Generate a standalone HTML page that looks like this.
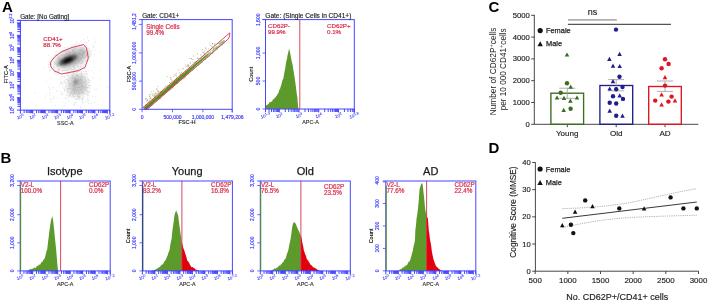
<!DOCTYPE html>
<html><head><meta charset="utf-8"><style>
html,body{margin:0;padding:0;background:#fff;}
svg{display:block;will-change:transform;}
text{font-family:"Liberation Sans",sans-serif;}
</style></head><body>
<svg xmlns="http://www.w3.org/2000/svg" width="708" height="301" viewBox="0 0 708 301">
<defs><filter id="b1" x="-50%" y="-50%" width="200%" height="200%"><feGaussianBlur stdDeviation="1.2"/></filter><filter id="b2" x="-50%" y="-50%" width="200%" height="200%"><feGaussianBlur stdDeviation="2.5"/></filter></defs>
<rect width="708" height="301" fill="#fff"/>
<text x="2" y="11.8" font-size="15" fill="#000" text-anchor="start" font-weight="bold" >A</text>
<text x="0.6" y="163.3" font-size="15" fill="#000" text-anchor="start" font-weight="bold" >B</text>
<text x="488.4" y="12.1" font-size="15" fill="#000" text-anchor="start" font-weight="bold" >C</text>
<text x="488.4" y="153" font-size="15" fill="#000" text-anchor="start" font-weight="bold" >D</text>
<ellipse cx="71.5" cy="58" rx="17.5" ry="8.6" transform="rotate(-22 71.5 58)" fill="#8f8f8f" opacity="0.55" filter="url(#b2)"/>
<ellipse cx="77.5" cy="85" rx="9.5" ry="11" fill="#b0b0b0" opacity="0.6" filter="url(#b2)"/>
<ellipse cx="75.6" cy="82.6" rx="1.6" ry="1.9" fill="#777" opacity="0.6" filter="url(#b1)"/>
<path d="M69.6 61.9h.9v.9h-.9zM68.2 58.0h.9v.9h-.9zM61.6 61.5h.9v.9h-.9zM82.5 55.7h.9v.9h-.9zM81.5 55.2h.9v.9h-.9zM75.2 57.7h.9v.9h-.9zM56.8 69.5h.9v.9h-.9zM76.9 58.6h.9v.9h-.9zM51.2 57.8h.9v.9h-.9zM61.5 60.2h.9v.9h-.9zM73.8 57.0h.9v.9h-.9zM74.7 53.3h.9v.9h-.9zM74.8 59.0h.9v.9h-.9zM68.2 69.2h.9v.9h-.9zM78.8 61.6h.9v.9h-.9zM63.5 57.8h.9v.9h-.9zM67.5 59.5h.9v.9h-.9zM77.6 56.9h.9v.9h-.9zM64.8 56.0h.9v.9h-.9zM68.5 66.3h.9v.9h-.9zM63.7 63.1h.9v.9h-.9zM72.1 49.9h.9v.9h-.9zM74.1 64.3h.9v.9h-.9zM51.0 65.6h.9v.9h-.9zM68.3 55.2h.9v.9h-.9zM75.6 56.1h.9v.9h-.9zM58.6 68.5h.9v.9h-.9zM79.3 60.0h.9v.9h-.9zM85.6 54.0h.9v.9h-.9zM69.5 52.1h.9v.9h-.9zM75.7 53.1h.9v.9h-.9zM64.1 54.7h.9v.9h-.9zM60.6 60.2h.9v.9h-.9zM79.2 43.7h.9v.9h-.9zM57.5 65.8h.9v.9h-.9zM86.0 55.0h.9v.9h-.9zM47.7 55.1h.9v.9h-.9zM72.9 53.6h.9v.9h-.9zM62.2 67.7h.9v.9h-.9zM81.9 54.5h.9v.9h-.9zM74.2 59.4h.9v.9h-.9zM87.5 54.5h.9v.9h-.9zM77.1 58.8h.9v.9h-.9zM58.6 71.1h.9v.9h-.9zM81.2 56.8h.9v.9h-.9zM50.8 64.0h.9v.9h-.9zM75.4 46.6h.9v.9h-.9zM71.3 63.9h.9v.9h-.9zM61.7 71.5h.9v.9h-.9zM76.0 55.5h.9v.9h-.9zM75.4 60.1h.9v.9h-.9zM74.5 63.2h.9v.9h-.9zM63.8 59.4h.9v.9h-.9zM81.0 54.2h.9v.9h-.9zM64.5 66.6h.9v.9h-.9zM84.2 50.2h.9v.9h-.9zM57.5 63.8h.9v.9h-.9zM69.0 57.8h.9v.9h-.9zM82.4 47.8h.9v.9h-.9zM80.5 47.3h.9v.9h-.9zM64.7 64.7h.9v.9h-.9zM83.6 57.6h.9v.9h-.9zM74.6 57.7h.9v.9h-.9zM73.6 60.5h.9v.9h-.9zM69.9 60.5h.9v.9h-.9zM76.5 56.1h.9v.9h-.9zM79.5 57.8h.9v.9h-.9zM90.9 51.4h.9v.9h-.9zM66.1 58.6h.9v.9h-.9zM72.8 62.8h.9v.9h-.9zM68.6 61.7h.9v.9h-.9zM83.4 38.9h.9v.9h-.9zM60.7 64.4h.9v.9h-.9zM75.3 57.9h.9v.9h-.9zM68.2 63.3h.9v.9h-.9zM72.6 54.9h.9v.9h-.9zM95.0 49.7h.9v.9h-.9zM65.5 60.4h.9v.9h-.9zM68.7 59.2h.9v.9h-.9zM43.8 67.9h.9v.9h-.9zM78.3 48.9h.9v.9h-.9zM72.3 63.1h.9v.9h-.9zM82.2 61.7h.9v.9h-.9zM54.0 64.2h.9v.9h-.9zM69.0 62.8h.9v.9h-.9zM76.0 41.6h.9v.9h-.9zM78.5 47.2h.9v.9h-.9zM74.5 48.8h.9v.9h-.9zM75.1 63.2h.9v.9h-.9zM70.0 60.0h.9v.9h-.9zM78.9 55.7h.9v.9h-.9zM73.3 65.9h.9v.9h-.9zM80.5 52.7h.9v.9h-.9zM95.0 41.5h.9v.9h-.9zM79.2 53.4h.9v.9h-.9zM73.7 61.2h.9v.9h-.9zM74.4 60.5h.9v.9h-.9zM53.3 58.1h.9v.9h-.9zM74.9 51.5h.9v.9h-.9zM58.2 56.2h.9v.9h-.9zM84.7 56.5h.9v.9h-.9zM83.2 47.9h.9v.9h-.9zM68.7 53.3h.9v.9h-.9zM81.6 62.5h.9v.9h-.9zM65.6 69.4h.9v.9h-.9zM80.1 53.5h.9v.9h-.9zM54.9 73.3h.9v.9h-.9zM68.9 56.2h.9v.9h-.9zM75.7 58.7h.9v.9h-.9zM83.3 47.4h.9v.9h-.9zM84.9 60.4h.9v.9h-.9zM84.6 51.5h.9v.9h-.9zM65.9 66.3h.9v.9h-.9zM72.4 58.6h.9v.9h-.9zM84.1 51.2h.9v.9h-.9zM48.2 66.5h.9v.9h-.9zM54.9 70.2h.9v.9h-.9zM72.8 54.4h.9v.9h-.9zM72.6 62.3h.9v.9h-.9zM74.5 64.2h.9v.9h-.9zM72.5 63.5h.9v.9h-.9zM88.6 59.5h.9v.9h-.9zM66.3 65.4h.9v.9h-.9zM50.8 61.6h.9v.9h-.9zM54.3 71.8h.9v.9h-.9zM59.2 63.7h.9v.9h-.9zM69.1 59.2h.9v.9h-.9zM65.8 62.1h.9v.9h-.9zM88.3 51.1h.9v.9h-.9zM78.1 60.8h.9v.9h-.9zM66.5 53.6h.9v.9h-.9zM67.9 65.8h.9v.9h-.9zM54.0 62.8h.9v.9h-.9zM82.3 57.8h.9v.9h-.9zM72.7 62.1h.9v.9h-.9zM70.2 52.4h.9v.9h-.9zM54.7 62.3h.9v.9h-.9zM78.7 52.0h.9v.9h-.9zM60.8 58.8h.9v.9h-.9zM56.1 64.5h.9v.9h-.9zM60.4 65.2h.9v.9h-.9zM49.0 70.1h.9v.9h-.9zM60.9 52.4h.9v.9h-.9zM77.4 54.1h.9v.9h-.9zM47.8 64.0h.9v.9h-.9zM72.9 55.2h.9v.9h-.9zM80.0 58.6h.9v.9h-.9zM78.1 57.1h.9v.9h-.9zM85.1 55.8h.9v.9h-.9zM71.1 47.1h.9v.9h-.9zM82.3 60.7h.9v.9h-.9zM67.2 57.6h.9v.9h-.9zM86.0 42.2h.9v.9h-.9zM80.4 67.6h.9v.9h-.9zM63.5 65.6h.9v.9h-.9zM88.9 49.9h.9v.9h-.9zM78.2 60.2h.9v.9h-.9zM62.1 62.0h.9v.9h-.9zM75.5 61.0h.9v.9h-.9zM70.3 57.8h.9v.9h-.9zM60.5 61.2h.9v.9h-.9zM79.8 55.2h.9v.9h-.9zM61.1 58.3h.9v.9h-.9zM98.9 52.3h.9v.9h-.9zM71.8 43.9h.9v.9h-.9zM77.9 58.0h.9v.9h-.9zM88.0 53.3h.9v.9h-.9zM71.4 61.2h.9v.9h-.9zM54.5 71.5h.9v.9h-.9zM72.7 53.9h.9v.9h-.9zM87.4 61.1h.9v.9h-.9zM56.2 61.4h.9v.9h-.9zM74.2 58.1h.9v.9h-.9zM65.2 55.8h.9v.9h-.9zM93.4 54.2h.9v.9h-.9zM56.8 57.5h.9v.9h-.9zM89.3 55.7h.9v.9h-.9zM90.1 54.4h.9v.9h-.9zM63.2 63.4h.9v.9h-.9zM48.8 64.3h.9v.9h-.9zM71.5 61.1h.9v.9h-.9zM63.8 61.0h.9v.9h-.9zM76.2 58.3h.9v.9h-.9zM77.5 56.7h.9v.9h-.9zM69.5 63.5h.9v.9h-.9zM69.8 54.5h.9v.9h-.9zM65.0 61.2h.9v.9h-.9zM70.3 59.7h.9v.9h-.9zM71.4 59.3h.9v.9h-.9zM67.2 53.3h.9v.9h-.9zM77.2 61.5h.9v.9h-.9zM74.8 55.8h.9v.9h-.9zM73.3 52.2h.9v.9h-.9zM52.9 66.9h.9v.9h-.9zM63.6 65.9h.9v.9h-.9zM55.3 51.1h.9v.9h-.9zM64.2 70.1h.9v.9h-.9zM64.6 53.9h.9v.9h-.9zM64.7 64.1h.9v.9h-.9zM76.1 57.2h.9v.9h-.9zM86.7 55.4h.9v.9h-.9zM72.0 61.3h.9v.9h-.9zM88.8 55.9h.9v.9h-.9zM78.6 49.2h.9v.9h-.9zM71.1 62.5h.9v.9h-.9zM70.3 64.6h.9v.9h-.9zM78.6 60.1h.9v.9h-.9zM74.1 71.0h.9v.9h-.9zM82.5 52.2h.9v.9h-.9zM77.1 70.0h.9v.9h-.9zM69.5 64.0h.9v.9h-.9zM80.4 54.3h.9v.9h-.9zM60.2 64.3h.9v.9h-.9zM76.7 62.1h.9v.9h-.9zM78.6 55.3h.9v.9h-.9zM80.3 57.3h.9v.9h-.9zM73.1 57.9h.9v.9h-.9zM70.1 62.7h.9v.9h-.9zM59.6 60.1h.9v.9h-.9zM68.1 51.8h.9v.9h-.9zM62.7 51.2h.9v.9h-.9zM65.6 64.0h.9v.9h-.9zM76.3 55.8h.9v.9h-.9zM65.9 53.0h.9v.9h-.9zM89.6 53.1h.9v.9h-.9zM79.7 49.8h.9v.9h-.9zM65.5 51.0h.9v.9h-.9zM80.4 59.4h.9v.9h-.9zM52.7 66.4h.9v.9h-.9zM73.5 47.8h.9v.9h-.9zM51.3 61.4h.9v.9h-.9zM62.1 54.8h.9v.9h-.9zM71.8 59.5h.9v.9h-.9zM78.5 59.0h.9v.9h-.9zM87.8 57.4h.9v.9h-.9zM57.4 61.8h.9v.9h-.9zM58.6 58.1h.9v.9h-.9zM70.2 58.9h.9v.9h-.9zM72.5 49.2h.9v.9h-.9zM59.1 63.7h.9v.9h-.9zM68.5 57.9h.9v.9h-.9zM68.8 55.3h.9v.9h-.9zM78.4 57.1h.9v.9h-.9zM68.8 55.8h.9v.9h-.9zM63.8 46.8h.9v.9h-.9zM61.7 62.9h.9v.9h-.9zM57.0 65.8h.9v.9h-.9zM69.6 51.6h.9v.9h-.9zM68.0 58.1h.9v.9h-.9zM76.7 59.3h.9v.9h-.9zM68.9 54.8h.9v.9h-.9zM69.5 58.8h.9v.9h-.9zM78.6 56.7h.9v.9h-.9zM61.3 55.4h.9v.9h-.9zM65.9 56.7h.9v.9h-.9zM60.1 62.7h.9v.9h-.9zM66.5 61.1h.9v.9h-.9zM75.2 54.4h.9v.9h-.9zM92.6 47.1h.9v.9h-.9zM81.8 54.4h.9v.9h-.9zM76.9 42.9h.9v.9h-.9zM64.3 62.8h.9v.9h-.9zM81.5 66.6h.9v.9h-.9zM76.7 63.0h.9v.9h-.9zM80.3 59.6h.9v.9h-.9zM75.6 55.6h.9v.9h-.9zM73.7 51.4h.9v.9h-.9zM80.3 48.8h.9v.9h-.9zM77.7 67.1h.9v.9h-.9zM68.9 59.5h.9v.9h-.9zM82.2 53.7h.9v.9h-.9zM63.8 63.1h.9v.9h-.9zM78.0 59.3h.9v.9h-.9zM67.2 69.8h.9v.9h-.9zM87.0 51.5h.9v.9h-.9zM72.7 55.4h.9v.9h-.9zM83.1 49.2h.9v.9h-.9zM76.5 53.4h.9v.9h-.9zM65.8 64.7h.9v.9h-.9zM83.8 52.8h.9v.9h-.9zM66.2 65.1h.9v.9h-.9zM71.2 60.1h.9v.9h-.9zM87.9 57.2h.9v.9h-.9zM70.7 71.2h.9v.9h-.9zM72.6 62.1h.9v.9h-.9zM64.7 61.1h.9v.9h-.9zM57.8 74.1h.9v.9h-.9zM81.6 47.1h.9v.9h-.9zM53.3 57.5h.9v.9h-.9zM81.3 51.4h.9v.9h-.9zM69.8 57.3h.9v.9h-.9zM67.6 54.0h.9v.9h-.9zM68.3 51.8h.9v.9h-.9zM70.9 60.2h.9v.9h-.9zM75.0 55.4h.9v.9h-.9zM62.7 63.1h.9v.9h-.9zM69.5 67.7h.9v.9h-.9zM78.1 54.7h.9v.9h-.9zM65.1 57.3h.9v.9h-.9zM61.3 60.9h.9v.9h-.9zM74.9 59.6h.9v.9h-.9zM80.7 65.7h.9v.9h-.9zM64.3 61.6h.9v.9h-.9zM94.0 38.0h.9v.9h-.9zM66.3 61.5h.9v.9h-.9zM73.3 59.7h.9v.9h-.9zM69.5 61.2h.9v.9h-.9zM73.1 61.8h.9v.9h-.9zM51.0 62.5h.9v.9h-.9zM68.9 53.8h.9v.9h-.9zM62.3 65.8h.9v.9h-.9zM66.1 64.2h.9v.9h-.9zM78.8 56.7h.9v.9h-.9zM75.7 55.9h.9v.9h-.9zM57.4 64.4h.9v.9h-.9zM74.3 54.1h.9v.9h-.9zM71.6 62.3h.9v.9h-.9zM63.9 65.2h.9v.9h-.9zM87.7 48.0h.9v.9h-.9zM72.1 57.2h.9v.9h-.9zM86.4 53.4h.9v.9h-.9zM78.2 51.5h.9v.9h-.9zM70.8 58.5h.9v.9h-.9zM56.9 72.7h.9v.9h-.9zM76.1 46.7h.9v.9h-.9zM77.9 54.7h.9v.9h-.9zM76.0 58.3h.9v.9h-.9zM56.2 63.9h.9v.9h-.9zM84.1 49.5h.9v.9h-.9zM58.4 56.7h.9v.9h-.9zM60.0 65.2h.9v.9h-.9zM88.1 53.2h.9v.9h-.9zM77.9 67.7h.9v.9h-.9zM64.6 57.6h.9v.9h-.9zM77.2 58.7h.9v.9h-.9zM58.9 57.5h.9v.9h-.9zM74.3 58.4h.9v.9h-.9zM58.1 63.2h.9v.9h-.9zM66.7 62.9h.9v.9h-.9zM69.7 58.6h.9v.9h-.9zM69.8 64.8h.9v.9h-.9zM83.6 50.9h.9v.9h-.9zM77.6 51.4h.9v.9h-.9zM73.2 61.6h.9v.9h-.9zM84.7 50.3h.9v.9h-.9zM70.7 59.7h.9v.9h-.9zM56.7 65.0h.9v.9h-.9zM65.3 63.1h.9v.9h-.9zM56.1 54.3h.9v.9h-.9zM71.9 59.5h.9v.9h-.9zM67.5 64.9h.9v.9h-.9zM67.1 56.9h.9v.9h-.9zM72.4 49.3h.9v.9h-.9zM64.5 61.3h.9v.9h-.9zM78.8 54.1h.9v.9h-.9zM72.6 54.2h.9v.9h-.9zM77.3 64.8h.9v.9h-.9zM69.2 72.2h.9v.9h-.9zM64.9 61.3h.9v.9h-.9zM74.7 62.4h.9v.9h-.9zM54.9 54.2h.9v.9h-.9zM78.4 59.5h.9v.9h-.9zM82.3 67.9h.9v.9h-.9zM73.5 58.8h.9v.9h-.9zM80.7 56.2h.9v.9h-.9zM84.4 45.7h.9v.9h-.9zM60.4 44.4h.9v.9h-.9zM78.0 53.3h.9v.9h-.9zM84.2 64.4h.9v.9h-.9zM70.4 57.4h.9v.9h-.9zM64.5 56.8h.9v.9h-.9zM66.3 64.1h.9v.9h-.9zM71.5 58.6h.9v.9h-.9zM71.2 63.4h.9v.9h-.9zM75.4 55.7h.9v.9h-.9zM77.1 55.0h.9v.9h-.9zM62.9 70.1h.9v.9h-.9zM73.5 52.1h.9v.9h-.9zM82.0 55.5h.9v.9h-.9zM59.3 72.5h.9v.9h-.9zM76.0 61.1h.9v.9h-.9zM72.6 57.0h.9v.9h-.9zM58.1 69.5h.9v.9h-.9zM70.7 57.1h.9v.9h-.9zM74.5 57.4h.9v.9h-.9zM76.7 53.9h.9v.9h-.9zM66.3 48.9h.9v.9h-.9zM68.3 63.4h.9v.9h-.9zM83.1 51.1h.9v.9h-.9zM73.1 66.3h.9v.9h-.9zM69.4 63.2h.9v.9h-.9zM87.2 51.5h.9v.9h-.9zM81.3 50.0h.9v.9h-.9zM72.8 57.3h.9v.9h-.9zM74.4 63.2h.9v.9h-.9zM92.6 45.3h.9v.9h-.9zM66.5 63.2h.9v.9h-.9zM61.9 65.3h.9v.9h-.9zM75.9 54.8h.9v.9h-.9zM72.9 49.2h.9v.9h-.9zM75.1 48.2h.9v.9h-.9zM63.2 58.9h.9v.9h-.9zM68.9 64.1h.9v.9h-.9zM71.0 56.3h.9v.9h-.9zM79.4 63.4h.9v.9h-.9zM71.8 60.1h.9v.9h-.9zM83.4 54.4h.9v.9h-.9zM63.7 75.4h.9v.9h-.9zM88.1 40.0h.9v.9h-.9zM71.5 60.6h.9v.9h-.9zM81.6 57.4h.9v.9h-.9zM66.2 54.8h.9v.9h-.9zM74.1 62.8h.9v.9h-.9zM58.5 58.5h.9v.9h-.9zM66.8 49.8h.9v.9h-.9zM67.6 57.6h.9v.9h-.9zM73.9 53.4h.9v.9h-.9zM61.7 60.5h.9v.9h-.9zM69.2 55.7h.9v.9h-.9zM72.6 61.9h.9v.9h-.9zM85.8 61.2h.9v.9h-.9zM62.6 59.9h.9v.9h-.9zM51.0 77.8h.9v.9h-.9zM64.0 61.4h.9v.9h-.9zM73.2 50.1h.9v.9h-.9zM75.4 56.4h.9v.9h-.9zM54.1 67.6h.9v.9h-.9zM78.7 44.9h.9v.9h-.9zM79.2 56.0h.9v.9h-.9zM76.5 58.5h.9v.9h-.9zM83.1 51.9h.9v.9h-.9zM78.5 52.9h.9v.9h-.9zM76.3 51.7h.9v.9h-.9zM73.5 66.9h.9v.9h-.9zM75.0 55.9h.9v.9h-.9zM58.4 59.8h.9v.9h-.9zM74.8 62.0h.9v.9h-.9zM76.2 59.1h.9v.9h-.9zM73.3 64.9h.9v.9h-.9zM66.1 57.7h.9v.9h-.9zM79.6 55.0h.9v.9h-.9zM67.2 57.1h.9v.9h-.9zM69.8 62.4h.9v.9h-.9zM71.9 51.5h.9v.9h-.9zM75.5 57.5h.9v.9h-.9zM63.0 66.3h.9v.9h-.9zM67.6 58.2h.9v.9h-.9zM81.3 61.1h.9v.9h-.9zM65.3 63.4h.9v.9h-.9zM67.3 72.8h.9v.9h-.9zM68.7 66.1h.9v.9h-.9zM66.4 65.0h.9v.9h-.9zM87.1 37.4h.9v.9h-.9zM67.9 62.6h.9v.9h-.9zM68.7 55.8h.9v.9h-.9zM91.8 49.7h.9v.9h-.9zM57.0 69.4h.9v.9h-.9zM56.8 71.1h.9v.9h-.9zM65.8 61.6h.9v.9h-.9zM83.3 53.7h.9v.9h-.9zM54.2 56.7h.9v.9h-.9zM83.8 56.8h.9v.9h-.9zM64.9 65.9h.9v.9h-.9zM77.1 59.3h.9v.9h-.9zM48.7 66.8h.9v.9h-.9zM81.1 58.0h.9v.9h-.9zM74.5 43.5h.9v.9h-.9zM73.6 60.0h.9v.9h-.9zM93.5 43.2h.9v.9h-.9zM67.9 60.1h.9v.9h-.9zM78.6 52.7h.9v.9h-.9zM80.4 50.0h.9v.9h-.9zM72.5 55.0h.9v.9h-.9zM71.1 54.7h.9v.9h-.9zM57.9 70.3h.9v.9h-.9zM72.8 54.7h.9v.9h-.9zM74.9 62.2h.9v.9h-.9zM61.4 62.2h.9v.9h-.9zM77.2 58.6h.9v.9h-.9zM63.5 50.3h.9v.9h-.9zM85.0 89.0h.9v.9h-.9zM78.0 82.8h.9v.9h-.9zM79.8 81.9h.9v.9h-.9zM72.0 78.0h.9v.9h-.9zM74.5 79.5h.9v.9h-.9zM69.2 88.7h.9v.9h-.9zM68.2 88.7h.9v.9h-.9zM70.5 86.6h.9v.9h-.9zM86.0 88.2h.9v.9h-.9zM72.8 84.6h.9v.9h-.9zM80.9 71.5h.9v.9h-.9zM73.4 85.6h.9v.9h-.9zM74.4 85.1h.9v.9h-.9zM81.1 91.9h.9v.9h-.9zM82.5 90.7h.9v.9h-.9zM75.7 84.5h.9v.9h-.9zM76.2 82.2h.9v.9h-.9zM78.7 71.2h.9v.9h-.9zM75.4 84.4h.9v.9h-.9zM71.3 83.7h.9v.9h-.9zM81.0 84.3h.9v.9h-.9zM94.4 66.8h.9v.9h-.9zM78.7 70.4h.9v.9h-.9zM80.1 107.0h.9v.9h-.9zM61.3 83.2h.9v.9h-.9zM81.2 83.2h.9v.9h-.9zM84.1 68.0h.9v.9h-.9zM82.4 88.9h.9v.9h-.9zM78.5 80.4h.9v.9h-.9zM82.3 81.9h.9v.9h-.9zM79.6 81.2h.9v.9h-.9zM63.2 82.2h.9v.9h-.9zM77.7 91.2h.9v.9h-.9zM71.9 83.8h.9v.9h-.9zM81.2 86.8h.9v.9h-.9zM82.7 102.1h.9v.9h-.9zM74.4 68.8h.9v.9h-.9zM80.9 98.0h.9v.9h-.9zM82.3 92.5h.9v.9h-.9zM74.5 78.7h.9v.9h-.9zM84.5 78.8h.9v.9h-.9zM67.3 75.1h.9v.9h-.9zM90.8 103.0h.9v.9h-.9zM74.1 78.5h.9v.9h-.9zM80.0 79.4h.9v.9h-.9zM86.0 85.9h.9v.9h-.9zM68.7 94.1h.9v.9h-.9zM73.5 86.1h.9v.9h-.9zM77.9 82.5h.9v.9h-.9zM80.5 79.9h.9v.9h-.9zM68.8 65.5h.9v.9h-.9zM70.4 77.6h.9v.9h-.9zM77.3 85.4h.9v.9h-.9zM80.9 86.6h.9v.9h-.9zM73.4 78.5h.9v.9h-.9zM64.2 81.3h.9v.9h-.9zM79.9 89.7h.9v.9h-.9zM77.0 83.5h.9v.9h-.9zM83.5 86.2h.9v.9h-.9zM81.4 90.4h.9v.9h-.9zM77.0 95.5h.9v.9h-.9zM74.3 81.5h.9v.9h-.9zM73.4 77.8h.9v.9h-.9zM85.0 100.6h.9v.9h-.9zM76.9 89.5h.9v.9h-.9zM83.9 92.7h.9v.9h-.9zM87.0 76.4h.9v.9h-.9zM72.8 87.8h.9v.9h-.9zM86.5 87.4h.9v.9h-.9zM72.5 81.2h.9v.9h-.9zM74.5 77.5h.9v.9h-.9zM88.0 81.8h.9v.9h-.9zM74.6 102.1h.9v.9h-.9zM84.6 89.0h.9v.9h-.9zM73.0 87.5h.9v.9h-.9zM87.0 91.7h.9v.9h-.9zM85.4 87.2h.9v.9h-.9zM81.1 84.0h.9v.9h-.9zM78.4 95.7h.9v.9h-.9zM68.4 82.9h.9v.9h-.9zM79.8 80.8h.9v.9h-.9zM74.4 90.9h.9v.9h-.9zM89.4 92.2h.9v.9h-.9zM81.7 73.1h.9v.9h-.9zM89.7 87.8h.9v.9h-.9zM78.8 76.2h.9v.9h-.9zM78.7 76.3h.9v.9h-.9zM77.3 88.8h.9v.9h-.9zM77.3 87.2h.9v.9h-.9zM70.1 95.3h.9v.9h-.9zM75.8 69.9h.9v.9h-.9zM77.4 78.8h.9v.9h-.9zM71.5 81.1h.9v.9h-.9zM81.0 76.0h.9v.9h-.9zM74.6 96.1h.9v.9h-.9zM82.1 84.6h.9v.9h-.9zM78.5 84.2h.9v.9h-.9zM76.2 90.7h.9v.9h-.9zM80.2 66.0h.9v.9h-.9zM78.6 78.0h.9v.9h-.9zM82.5 80.9h.9v.9h-.9zM75.4 102.3h.9v.9h-.9zM72.4 75.0h.9v.9h-.9zM71.8 64.5h.9v.9h-.9zM65.0 85.8h.9v.9h-.9zM76.0 69.6h.9v.9h-.9zM67.2 88.2h.9v.9h-.9zM73.0 81.2h.9v.9h-.9zM77.7 96.1h.9v.9h-.9zM88.5 95.3h.9v.9h-.9zM78.2 86.6h.9v.9h-.9zM87.1 98.3h.9v.9h-.9zM74.9 88.3h.9v.9h-.9zM79.3 85.7h.9v.9h-.9zM76.1 74.0h.9v.9h-.9zM76.2 72.2h.9v.9h-.9zM84.6 90.6h.9v.9h-.9zM67.8 94.6h.9v.9h-.9zM85.9 71.0h.9v.9h-.9zM88.2 93.5h.9v.9h-.9zM92.4 77.6h.9v.9h-.9zM80.3 88.9h.9v.9h-.9zM78.6 86.6h.9v.9h-.9zM86.3 74.4h.9v.9h-.9zM71.5 72.6h.9v.9h-.9zM74.8 79.6h.9v.9h-.9zM79.5 87.5h.9v.9h-.9zM78.6 79.7h.9v.9h-.9zM73.3 92.0h.9v.9h-.9zM82.2 86.7h.9v.9h-.9zM73.3 96.9h.9v.9h-.9zM72.8 89.4h.9v.9h-.9zM85.3 84.2h.9v.9h-.9zM84.3 77.1h.9v.9h-.9zM83.7 87.7h.9v.9h-.9zM66.4 88.5h.9v.9h-.9zM70.0 94.1h.9v.9h-.9zM73.4 82.9h.9v.9h-.9zM79.8 82.7h.9v.9h-.9zM79.9 80.9h.9v.9h-.9zM81.8 85.8h.9v.9h-.9zM82.7 63.6h.9v.9h-.9zM84.9 86.6h.9v.9h-.9zM66.0 83.7h.9v.9h-.9zM79.0 94.0h.9v.9h-.9zM68.4 96.0h.9v.9h-.9zM73.2 103.7h.9v.9h-.9zM75.6 90.2h.9v.9h-.9zM76.7 75.8h.9v.9h-.9zM83.3 93.4h.9v.9h-.9zM86.2 93.5h.9v.9h-.9zM76.1 71.3h.9v.9h-.9zM74.3 78.9h.9v.9h-.9zM71.5 88.7h.9v.9h-.9zM80.0 83.2h.9v.9h-.9zM78.8 84.0h.9v.9h-.9zM77.8 91.2h.9v.9h-.9zM84.6 80.7h.9v.9h-.9zM65.9 94.5h.9v.9h-.9zM76.7 93.8h.9v.9h-.9zM67.4 80.5h.9v.9h-.9zM79.7 73.7h.9v.9h-.9zM73.2 90.1h.9v.9h-.9zM82.2 98.8h.9v.9h-.9zM73.9 73.0h.9v.9h-.9zM79.5 93.0h.9v.9h-.9zM80.5 75.0h.9v.9h-.9zM81.4 92.1h.9v.9h-.9zM81.7 81.8h.9v.9h-.9zM78.3 91.6h.9v.9h-.9zM76.5 69.8h.9v.9h-.9zM78.9 89.2h.9v.9h-.9zM76.4 92.0h.9v.9h-.9zM73.9 83.7h.9v.9h-.9zM74.8 89.2h.9v.9h-.9zM88.1 84.8h.9v.9h-.9zM88.5 99.4h.9v.9h-.9zM81.7 90.5h.9v.9h-.9zM89.1 85.6h.9v.9h-.9zM78.3 76.5h.9v.9h-.9zM78.7 96.1h.9v.9h-.9zM80.3 88.9h.9v.9h-.9zM76.0 86.1h.9v.9h-.9zM66.9 91.7h.9v.9h-.9zM76.4 75.8h.9v.9h-.9zM73.8 77.7h.9v.9h-.9zM81.5 94.3h.9v.9h-.9zM67.5 90.8h.9v.9h-.9zM84.0 81.4h.9v.9h-.9zM69.0 77.4h.9v.9h-.9zM73.0 87.0h.9v.9h-.9zM78.0 68.6h.9v.9h-.9zM81.1 73.2h.9v.9h-.9zM85.0 76.5h.9v.9h-.9zM74.3 77.5h.9v.9h-.9zM72.2 94.6h.9v.9h-.9zM82.1 90.7h.9v.9h-.9zM81.7 73.2h.9v.9h-.9zM74.9 80.1h.9v.9h-.9zM70.5 87.9h.9v.9h-.9zM73.7 78.6h.9v.9h-.9zM73.7 67.6h.9v.9h-.9zM79.5 96.2h.9v.9h-.9zM80.0 77.5h.9v.9h-.9zM59.9 83.3h.9v.9h-.9zM84.9 88.7h.9v.9h-.9zM81.4 97.7h.9v.9h-.9zM85.3 82.8h.9v.9h-.9zM83.2 92.3h.9v.9h-.9zM68.2 80.1h.9v.9h-.9zM68.5 82.5h.9v.9h-.9zM82.7 77.2h.9v.9h-.9zM62.5 92.9h.9v.9h-.9zM77.9 97.0h.9v.9h-.9zM67.6 91.9h.9v.9h-.9zM88.0 103.2h.9v.9h-.9zM75.8 86.9h.9v.9h-.9zM75.1 92.7h.9v.9h-.9zM84.0 86.9h.9v.9h-.9zM67.8 89.3h.9v.9h-.9zM73.6 89.4h.9v.9h-.9zM76.9 98.1h.9v.9h-.9zM85.4 82.7h.9v.9h-.9zM77.3 99.3h.9v.9h-.9zM73.5 87.8h.9v.9h-.9zM83.4 96.2h.9v.9h-.9zM82.7 75.2h.9v.9h-.9zM69.1 85.5h.9v.9h-.9zM76.4 105.5h.9v.9h-.9zM70.4 93.0h.9v.9h-.9zM84.8 72.7h.9v.9h-.9zM72.0 85.4h.9v.9h-.9zM74.6 83.2h.9v.9h-.9zM81.6 79.2h.9v.9h-.9zM81.4 80.5h.9v.9h-.9zM73.3 88.6h.9v.9h-.9zM73.4 86.6h.9v.9h-.9zM87.7 87.0h.9v.9h-.9zM75.5 90.6h.9v.9h-.9zM73.7 93.1h.9v.9h-.9zM68.4 88.4h.9v.9h-.9zM75.3 78.1h.9v.9h-.9zM90.0 80.3h.9v.9h-.9zM87.8 92.2h.9v.9h-.9zM88.2 78.9h.9v.9h-.9zM83.2 97.8h.9v.9h-.9zM76.9 83.9h.9v.9h-.9zM93.0 89.2h.9v.9h-.9zM75.7 79.6h.9v.9h-.9zM79.9 88.1h.9v.9h-.9zM76.2 98.8h.9v.9h-.9zM74.7 88.4h.9v.9h-.9zM88.2 78.7h.9v.9h-.9zM81.6 100.6h.9v.9h-.9zM70.4 74.8h.9v.9h-.9zM73.4 69.3h.9v.9h-.9zM83.0 70.9h.9v.9h-.9zM78.7 97.0h.9v.9h-.9zM67.6 80.7h.9v.9h-.9zM64.1 89.0h.9v.9h-.9zM73.1 82.1h.9v.9h-.9zM77.1 89.4h.9v.9h-.9zM75.3 84.7h.9v.9h-.9zM73.8 85.3h.9v.9h-.9zM69.9 84.2h.9v.9h-.9zM65.8 79.0h.9v.9h-.9zM89.6 87.8h.9v.9h-.9zM69.1 85.6h.9v.9h-.9zM73.6 70.9h.9v.9h-.9zM71.8 90.0h.9v.9h-.9zM80.1 84.7h.9v.9h-.9zM73.1 75.5h.9v.9h-.9zM85.8 88.5h.9v.9h-.9zM74.3 67.3h.9v.9h-.9zM65.3 103.0h.9v.9h-.9zM70.3 83.1h.9v.9h-.9zM79.1 84.0h.9v.9h-.9zM77.6 73.9h.9v.9h-.9zM68.4 97.1h.9v.9h-.9zM71.5 90.8h.9v.9h-.9zM67.0 80.9h.9v.9h-.9zM77.7 93.5h.9v.9h-.9zM69.5 88.4h.9v.9h-.9zM81.0 79.6h.9v.9h-.9zM81.8 78.5h.9v.9h-.9zM72.4 84.0h.9v.9h-.9zM60.3 81.1h.9v.9h-.9zM73.1 72.3h.9v.9h-.9zM73.7 90.5h.9v.9h-.9zM73.2 94.5h.9v.9h-.9zM71.9 73.4h.9v.9h-.9zM86.9 89.9h.9v.9h-.9zM84.7 79.6h.9v.9h-.9zM82.3 88.0h.9v.9h-.9zM81.6 85.9h.9v.9h-.9zM86.1 81.2h.9v.9h-.9zM73.4 72.3h.9v.9h-.9zM86.0 80.5h.9v.9h-.9zM72.1 76.4h.9v.9h-.9zM76.4 74.5h.9v.9h-.9zM76.5 79.7h.9v.9h-.9zM75.3 76.8h.9v.9h-.9zM78.4 81.4h.9v.9h-.9zM77.9 87.1h.9v.9h-.9zM82.7 68.1h.9v.9h-.9zM75.2 78.1h.9v.9h-.9zM84.6 73.4h.9v.9h-.9zM73.3 81.9h.9v.9h-.9zM74.0 92.4h.9v.9h-.9zM73.3 92.1h.9v.9h-.9zM70.6 69.1h.9v.9h-.9zM84.7 89.8h.9v.9h-.9zM80.5 86.5h.9v.9h-.9zM82.3 76.0h.9v.9h-.9zM84.3 81.9h.9v.9h-.9zM83.7 86.8h.9v.9h-.9zM66.7 72.6h.9v.9h-.9zM84.9 85.2h.9v.9h-.9zM74.6 86.5h.9v.9h-.9zM75.5 80.2h.9v.9h-.9zM78.0 86.3h.9v.9h-.9zM87.1 87.1h.9v.9h-.9zM87.0 101.3h.9v.9h-.9zM87.0 95.3h.9v.9h-.9zM78.1 86.2h.9v.9h-.9zM77.6 79.1h.9v.9h-.9zM78.0 79.9h.9v.9h-.9zM87.3 91.1h.9v.9h-.9zM77.3 69.4h.9v.9h-.9zM77.7 81.7h.9v.9h-.9zM72.1 74.8h.9v.9h-.9zM62.3 86.9h.9v.9h-.9zM73.5 105.3h.9v.9h-.9zM77.5 83.8h.9v.9h-.9zM86.6 87.7h.9v.9h-.9zM79.1 82.3h.9v.9h-.9zM71.5 96.1h.9v.9h-.9zM81.5 99.6h.9v.9h-.9zM75.2 84.8h.9v.9h-.9zM70.5 91.6h.9v.9h-.9zM67.8 87.9h.9v.9h-.9zM82.6 97.4h.9v.9h-.9zM70.0 92.5h.9v.9h-.9zM74.0 78.2h.9v.9h-.9zM67.4 92.6h.9v.9h-.9zM88.9 82.2h.9v.9h-.9zM73.1 81.5h.9v.9h-.9zM92.2 95.7h.9v.9h-.9zM76.5 70.3h.9v.9h-.9zM71.5 93.6h.9v.9h-.9zM89.8 85.0h.9v.9h-.9zM73.8 80.2h.9v.9h-.9zM64.2 90.0h.9v.9h-.9zM69.1 92.2h.9v.9h-.9zM68.3 73.1h.9v.9h-.9zM80.4 79.3h.9v.9h-.9zM82.5 85.9h.9v.9h-.9zM69.1 88.6h.9v.9h-.9zM85.5 70.9h.9v.9h-.9zM88.5 91.0h.9v.9h-.9zM85.0 71.2h.9v.9h-.9zM73.4 81.4h.9v.9h-.9zM86.4 74.7h.9v.9h-.9zM74.7 68.0h.9v.9h-.9zM75.5 87.5h.9v.9h-.9zM67.5 78.4h.9v.9h-.9zM78.6 98.1h.9v.9h-.9zM82.2 83.4h.9v.9h-.9zM71.3 76.3h.9v.9h-.9zM73.0 85.4h.9v.9h-.9zM74.9 98.1h.9v.9h-.9zM80.8 76.9h.9v.9h-.9zM86.1 94.2h.9v.9h-.9zM79.1 79.4h.9v.9h-.9zM66.9 74.8h.9v.9h-.9zM84.5 79.7h.9v.9h-.9zM68.8 85.1h.9v.9h-.9zM78.2 90.1h.9v.9h-.9zM79.7 96.8h.9v.9h-.9zM70.8 91.8h.9v.9h-.9zM63.1 87.7h.9v.9h-.9zM76.0 81.4h.9v.9h-.9zM84.6 77.8h.9v.9h-.9zM86.2 90.3h.9v.9h-.9zM75.5 70.1h.9v.9h-.9zM65.7 70.6h.9v.9h-.9zM71.8 77.7h.9v.9h-.9zM106.8 86.9h.9v.9h-.9zM82.5 66.0h.9v.9h-.9zM66.2 73.5h.9v.9h-.9zM76.1 63.5h.9v.9h-.9zM91.7 70.1h.9v.9h-.9zM85.9 45.3h.9v.9h-.9zM73.9 81.9h.9v.9h-.9zM76.1 86.4h.9v.9h-.9zM77.1 80.3h.9v.9h-.9zM53.2 68.0h.9v.9h-.9zM48.2 86.8h.9v.9h-.9zM77.4 75.3h.9v.9h-.9zM65.0 69.9h.9v.9h-.9zM94.3 102.2h.9v.9h-.9zM73.4 96.0h.9v.9h-.9zM56.5 50.9h.9v.9h-.9zM68.7 65.8h.9v.9h-.9zM67.8 80.6h.9v.9h-.9zM107.3 68.7h.9v.9h-.9zM74.5 81.9h.9v.9h-.9zM73.6 91.0h.9v.9h-.9zM93.5 60.6h.9v.9h-.9zM75.8 74.3h.9v.9h-.9zM77.9 56.6h.9v.9h-.9zM54.7 45.6h.9v.9h-.9zM79.8 80.7h.9v.9h-.9zM74.8 44.9h.9v.9h-.9zM69.9 67.4h.9v.9h-.9zM58.4 65.2h.9v.9h-.9zM81.7 85.6h.9v.9h-.9zM73.8 85.2h.9v.9h-.9zM67.4 79.0h.9v.9h-.9zM74.4 85.8h.9v.9h-.9zM73.2 76.0h.9v.9h-.9zM72.5 69.0h.9v.9h-.9zM98.6 85.2h.9v.9h-.9zM89.4 56.2h.9v.9h-.9zM81.6 89.7h.9v.9h-.9zM94.7 96.4h.9v.9h-.9zM82.5 61.5h.9v.9h-.9zM64.4 81.8h.9v.9h-.9zM79.6 63.7h.9v.9h-.9zM69.8 72.4h.9v.9h-.9zM74.7 82.7h.9v.9h-.9zM70.8 60.7h.9v.9h-.9zM87.7 100.3h.9v.9h-.9zM72.8 92.3h.9v.9h-.9zM78.9 87.2h.9v.9h-.9zM79.3 67.3h.9v.9h-.9zM80.3 92.1h.9v.9h-.9zM64.1 105.5h.9v.9h-.9zM97.0 103.5h.9v.9h-.9zM95.9 88.4h.9v.9h-.9zM70.3 69.6h.9v.9h-.9zM65.1 79.6h.9v.9h-.9zM73.6 87.4h.9v.9h-.9zM99.0 77.6h.9v.9h-.9zM81.4 84.7h.9v.9h-.9zM77.0 75.1h.9v.9h-.9zM72.6 66.5h.9v.9h-.9zM76.0 77.7h.9v.9h-.9zM77.5 66.0h.9v.9h-.9zM74.4 78.7h.9v.9h-.9zM80.6 63.1h.9v.9h-.9zM78.6 91.8h.9v.9h-.9zM80.6 72.8h.9v.9h-.9zM68.6 74.7h.9v.9h-.9zM82.0 99.7h.9v.9h-.9zM72.3 69.0h.9v.9h-.9zM78.1 80.9h.9v.9h-.9zM64.0 67.7h.9v.9h-.9zM72.9 87.4h.9v.9h-.9zM60.9 63.7h.9v.9h-.9zM79.5 60.9h.9v.9h-.9zM75.2 82.9h.9v.9h-.9zM72.8 63.7h.9v.9h-.9zM73.3 73.3h.9v.9h-.9zM77.7 66.3h.9v.9h-.9zM86.0 54.5h.9v.9h-.9zM72.1 78.1h.9v.9h-.9zM84.6 69.5h.9v.9h-.9zM80.0 70.1h.9v.9h-.9zM82.1 102.3h.9v.9h-.9zM69.6 84.2h.9v.9h-.9zM63.8 91.6h.9v.9h-.9zM87.3 78.5h.9v.9h-.9zM61.5 83.6h.9v.9h-.9zM86.6 93.3h.9v.9h-.9zM82.9 52.4h.9v.9h-.9zM66.5 97.9h.9v.9h-.9zM60.5 93.8h.9v.9h-.9zM94.7 88.7h.9v.9h-.9zM86.3 73.3h.9v.9h-.9zM60.5 76.6h.9v.9h-.9zM71.8 77.3h.9v.9h-.9zM81.7 76.0h.9v.9h-.9zM76.1 83.9h.9v.9h-.9zM73.9 103.8h.9v.9h-.9zM78.9 79.2h.9v.9h-.9zM71.7 69.2h.9v.9h-.9zM88.8 80.1h.9v.9h-.9zM62.1 70.1h.9v.9h-.9zM72.5 71.8h.9v.9h-.9zM85.9 61.7h.9v.9h-.9zM79.4 80.0h.9v.9h-.9zM61.0 78.7h.9v.9h-.9zM73.0 85.0h.9v.9h-.9zM69.0 82.2h.9v.9h-.9zM55.7 62.8h.9v.9h-.9zM82.6 92.6h.9v.9h-.9zM73.9 69.6h.9v.9h-.9zM85.9 48.7h.9v.9h-.9zM65.2 87.4h.9v.9h-.9zM81.2 63.5h.9v.9h-.9zM53.2 98.3h.9v.9h-.9zM75.7 65.5h.9v.9h-.9zM74.6 90.6h.9v.9h-.9zM45.5 93.5h.9v.9h-.9zM82.1 48.9h.9v.9h-.9zM82.5 53.1h.9v.9h-.9zM86.5 83.6h.9v.9h-.9zM98.8 69.5h.9v.9h-.9zM74.1 92.7h.9v.9h-.9zM67.0 68.1h.9v.9h-.9zM69.9 77.0h.9v.9h-.9zM62.1 84.8h.9v.9h-.9zM80.0 79.0h.9v.9h-.9zM92.7 73.4h.9v.9h-.9zM88.4 70.3h.9v.9h-.9zM82.3 50.9h.9v.9h-.9zM76.2 75.5h.9v.9h-.9zM68.6 69.5h.9v.9h-.9zM70.2 67.9h.9v.9h-.9zM49.9 69.7h.9v.9h-.9zM68.0 70.7h.9v.9h-.9zM62.4 76.1h.9v.9h-.9zM82.6 74.5h.9v.9h-.9zM68.6 97.0h.9v.9h-.9zM84.7 90.9h.9v.9h-.9zM86.7 73.4h.9v.9h-.9zM72.6 93.6h.9v.9h-.9zM67.9 76.3h.9v.9h-.9zM78.2 83.2h.9v.9h-.9zM71.0 91.8h.9v.9h-.9zM72.0 88.2h.9v.9h-.9zM85.8 87.2h.9v.9h-.9zM82.1 61.8h.9v.9h-.9zM59.6 69.3h.9v.9h-.9zM79.2 99.0h.9v.9h-.9zM60.6 82.3h.9v.9h-.9zM64.6 67.7h.9v.9h-.9zM57.2 97.5h.9v.9h-.9zM62.1 101.4h.9v.9h-.9zM50.1 99.1h.9v.9h-.9zM69.3 92.6h.9v.9h-.9zM64.8 87.5h.9v.9h-.9zM49.1 88.8h.9v.9h-.9zM55.1 105.2h.9v.9h-.9zM62.0 94.5h.9v.9h-.9zM67.4 85.8h.9v.9h-.9zM69.2 95.0h.9v.9h-.9zM44.8 96.8h.9v.9h-.9zM65.5 95.6h.9v.9h-.9zM75.8 88.7h.9v.9h-.9zM65.1 98.0h.9v.9h-.9zM51.0 101.6h.9v.9h-.9zM45.5 81.6h.9v.9h-.9zM65.2 83.3h.9v.9h-.9zM58.8 78.8h.9v.9h-.9zM60.7 82.9h.9v.9h-.9zM63.4 79.7h.9v.9h-.9zM64.5 89.9h.9v.9h-.9zM60.6 91.5h.9v.9h-.9zM61.3 81.4h.9v.9h-.9zM34.4 92.3h.9v.9h-.9zM50.6 88.4h.9v.9h-.9zM64.3 76.1h.9v.9h-.9zM52.4 87.1h.9v.9h-.9zM49.4 94.6h.9v.9h-.9zM58.6 85.4h.9v.9h-.9zM50.2 98.5h.9v.9h-.9zM53.4 96.7h.9v.9h-.9zM64.5 76.8h.9v.9h-.9zM49.2 92.0h.9v.9h-.9zM63.4 98.2h.9v.9h-.9zM68.0 100.3h.9v.9h-.9zM56.3 90.3h.9v.9h-.9zM67.8 88.6h.9v.9h-.9zM70.6 79.3h.9v.9h-.9zM66.5 90.6h.9v.9h-.9z" fill="#555" fill-opacity="0.2"/>
<ellipse cx="68" cy="60" rx="10" ry="3.8" transform="rotate(-24 68 60)" fill="#333" opacity="0.7" filter="url(#b1)"/>
<ellipse cx="67.8" cy="60.2" rx="5.5" ry="2.1" transform="rotate(-24 67.8 60.2)" fill="#000" opacity="0.92" filter="url(#b1)"/>
<ellipse cx="76" cy="81.5" rx="2" ry="2.4" fill="#888" opacity="0.6" filter="url(#b1)"/>
<polygon points="50.3,62.4 55,56.5 62,51.5 72,47.5 83.5,44.6 86.5,48 88.3,58 85,67.4 78.2,70.7 61.6,74 54,70.8 50.8,66.6" fill="none" stroke="#d3344c" stroke-width="0.9"/>
<text x="43.3" y="40.6" font-size="6.2" fill="#d8344f" text-anchor="start" font-weight="normal"  stroke="#d8344f" stroke-width="0.22">CD41+</text>
<text x="43.3" y="46.8" font-size="6.2" fill="#d8344f" text-anchor="start" font-weight="normal"  stroke="#d8344f" stroke-width="0.22">88.7%</text>
<rect x="20.4" y="20.4" width="89.4" height="89.7" fill="none" stroke="#4646ff" stroke-width="1"/>
<line x1="17.2" y1="20.4" x2="20.4" y2="20.4" stroke="#4646ff" stroke-width="0.9" />
<line x1="109.8" y1="110.1" x2="109.8" y2="113.3" stroke="#4646ff" stroke-width="0.9" />
<line x1="16.9" y1="110.1" x2="20.4" y2="110.1" stroke="#3c3cff" stroke-width="0.95" />
<line x1="17.4" y1="106.35" x2="20.4" y2="106.35" stroke="#3c3cff" stroke-width="0.95" />
<line x1="17.4" y1="104.16" x2="20.4" y2="104.16" stroke="#3c3cff" stroke-width="0.95" />
<line x1="17.4" y1="102.6" x2="20.4" y2="102.6" stroke="#3c3cff" stroke-width="0.95" />
<line x1="17.4" y1="101.39" x2="20.4" y2="101.39" stroke="#3c3cff" stroke-width="0.95" />
<line x1="17.4" y1="100.41" x2="20.4" y2="100.41" stroke="#3c3cff" stroke-width="0.95" />
<line x1="17.4" y1="99.57" x2="20.4" y2="99.57" stroke="#3c3cff" stroke-width="0.95" />
<line x1="17.4" y1="98.85" x2="20.4" y2="98.85" stroke="#3c3cff" stroke-width="0.95" />
<line x1="17.4" y1="98.21" x2="20.4" y2="98.21" stroke="#3c3cff" stroke-width="0.95" />
<line x1="16.9" y1="97.64" x2="20.4" y2="97.64" stroke="#3c3cff" stroke-width="0.95" />
<line x1="17.4" y1="93.89" x2="20.4" y2="93.89" stroke="#3c3cff" stroke-width="0.95" />
<line x1="17.4" y1="91.7" x2="20.4" y2="91.7" stroke="#3c3cff" stroke-width="0.95" />
<line x1="17.4" y1="90.14" x2="20.4" y2="90.14" stroke="#3c3cff" stroke-width="0.95" />
<line x1="17.4" y1="88.93" x2="20.4" y2="88.93" stroke="#3c3cff" stroke-width="0.95" />
<line x1="17.4" y1="87.95" x2="20.4" y2="87.95" stroke="#3c3cff" stroke-width="0.95" />
<line x1="17.4" y1="87.11" x2="20.4" y2="87.11" stroke="#3c3cff" stroke-width="0.95" />
<line x1="17.4" y1="86.39" x2="20.4" y2="86.39" stroke="#3c3cff" stroke-width="0.95" />
<line x1="17.4" y1="85.75" x2="20.4" y2="85.75" stroke="#3c3cff" stroke-width="0.95" />
<line x1="16.9" y1="85.18" x2="20.4" y2="85.18" stroke="#3c3cff" stroke-width="0.95" />
<line x1="17.4" y1="81.43" x2="20.4" y2="81.43" stroke="#3c3cff" stroke-width="0.95" />
<line x1="17.4" y1="79.24" x2="20.4" y2="79.24" stroke="#3c3cff" stroke-width="0.95" />
<line x1="17.4" y1="77.68" x2="20.4" y2="77.68" stroke="#3c3cff" stroke-width="0.95" />
<line x1="17.4" y1="76.48" x2="20.4" y2="76.48" stroke="#3c3cff" stroke-width="0.95" />
<line x1="17.4" y1="75.49" x2="20.4" y2="75.49" stroke="#3c3cff" stroke-width="0.95" />
<line x1="17.4" y1="74.65" x2="20.4" y2="74.65" stroke="#3c3cff" stroke-width="0.95" />
<line x1="17.4" y1="73.93" x2="20.4" y2="73.93" stroke="#3c3cff" stroke-width="0.95" />
<line x1="17.4" y1="73.3" x2="20.4" y2="73.3" stroke="#3c3cff" stroke-width="0.95" />
<line x1="16.9" y1="72.72" x2="20.4" y2="72.72" stroke="#3c3cff" stroke-width="0.95" />
<line x1="17.4" y1="68.97" x2="20.4" y2="68.97" stroke="#3c3cff" stroke-width="0.95" />
<line x1="17.4" y1="66.78" x2="20.4" y2="66.78" stroke="#3c3cff" stroke-width="0.95" />
<line x1="17.4" y1="65.22" x2="20.4" y2="65.22" stroke="#3c3cff" stroke-width="0.95" />
<line x1="17.4" y1="64.02" x2="20.4" y2="64.02" stroke="#3c3cff" stroke-width="0.95" />
<line x1="17.4" y1="63.03" x2="20.4" y2="63.03" stroke="#3c3cff" stroke-width="0.95" />
<line x1="17.4" y1="62.2" x2="20.4" y2="62.2" stroke="#3c3cff" stroke-width="0.95" />
<line x1="17.4" y1="61.47" x2="20.4" y2="61.47" stroke="#3c3cff" stroke-width="0.95" />
<line x1="17.4" y1="60.84" x2="20.4" y2="60.84" stroke="#3c3cff" stroke-width="0.95" />
<line x1="16.9" y1="60.27" x2="20.4" y2="60.27" stroke="#3c3cff" stroke-width="0.95" />
<line x1="17.4" y1="56.52" x2="20.4" y2="56.52" stroke="#3c3cff" stroke-width="0.95" />
<line x1="17.4" y1="54.32" x2="20.4" y2="54.32" stroke="#3c3cff" stroke-width="0.95" />
<line x1="17.4" y1="52.77" x2="20.4" y2="52.77" stroke="#3c3cff" stroke-width="0.95" />
<line x1="17.4" y1="51.56" x2="20.4" y2="51.56" stroke="#3c3cff" stroke-width="0.95" />
<line x1="17.4" y1="50.57" x2="20.4" y2="50.57" stroke="#3c3cff" stroke-width="0.95" />
<line x1="17.4" y1="49.74" x2="20.4" y2="49.74" stroke="#3c3cff" stroke-width="0.95" />
<line x1="17.4" y1="49.02" x2="20.4" y2="49.02" stroke="#3c3cff" stroke-width="0.95" />
<line x1="17.4" y1="48.38" x2="20.4" y2="48.38" stroke="#3c3cff" stroke-width="0.95" />
<line x1="16.9" y1="47.81" x2="20.4" y2="47.81" stroke="#3c3cff" stroke-width="0.95" />
<line x1="17.4" y1="44.06" x2="20.4" y2="44.06" stroke="#3c3cff" stroke-width="0.95" />
<line x1="17.4" y1="41.86" x2="20.4" y2="41.86" stroke="#3c3cff" stroke-width="0.95" />
<line x1="17.4" y1="40.31" x2="20.4" y2="40.31" stroke="#3c3cff" stroke-width="0.95" />
<line x1="17.4" y1="39.1" x2="20.4" y2="39.1" stroke="#3c3cff" stroke-width="0.95" />
<line x1="17.4" y1="38.11" x2="20.4" y2="38.11" stroke="#3c3cff" stroke-width="0.95" />
<line x1="17.4" y1="37.28" x2="20.4" y2="37.28" stroke="#3c3cff" stroke-width="0.95" />
<line x1="17.4" y1="36.56" x2="20.4" y2="36.56" stroke="#3c3cff" stroke-width="0.95" />
<line x1="17.4" y1="35.92" x2="20.4" y2="35.92" stroke="#3c3cff" stroke-width="0.95" />
<line x1="16.9" y1="35.35" x2="20.4" y2="35.35" stroke="#3c3cff" stroke-width="0.95" />
<line x1="17.4" y1="31.6" x2="20.4" y2="31.6" stroke="#3c3cff" stroke-width="0.95" />
<line x1="17.4" y1="29.41" x2="20.4" y2="29.41" stroke="#3c3cff" stroke-width="0.95" />
<line x1="17.4" y1="27.85" x2="20.4" y2="27.85" stroke="#3c3cff" stroke-width="0.95" />
<line x1="17.4" y1="26.64" x2="20.4" y2="26.64" stroke="#3c3cff" stroke-width="0.95" />
<line x1="17.4" y1="25.66" x2="20.4" y2="25.66" stroke="#3c3cff" stroke-width="0.95" />
<line x1="17.4" y1="24.82" x2="20.4" y2="24.82" stroke="#3c3cff" stroke-width="0.95" />
<line x1="17.4" y1="24.1" x2="20.4" y2="24.1" stroke="#3c3cff" stroke-width="0.95" />
<line x1="17.4" y1="23.46" x2="20.4" y2="23.46" stroke="#3c3cff" stroke-width="0.95" />
<line x1="16.9" y1="22.89" x2="20.4" y2="22.89" stroke="#3c3cff" stroke-width="0.95" />
<line x1="16.9" y1="20.4" x2="20.4" y2="20.4" stroke="#3c3cff" stroke-width="0.95" />
<line x1="20.4" y1="110.1" x2="20.4" y2="113.6" stroke="#3c3cff" stroke-width="0.95" />
<line x1="24.14" y1="110.1" x2="24.14" y2="113.1" stroke="#3c3cff" stroke-width="0.95" />
<line x1="26.32" y1="110.1" x2="26.32" y2="113.1" stroke="#3c3cff" stroke-width="0.95" />
<line x1="27.88" y1="110.1" x2="27.88" y2="113.1" stroke="#3c3cff" stroke-width="0.95" />
<line x1="29.08" y1="110.1" x2="29.08" y2="113.1" stroke="#3c3cff" stroke-width="0.95" />
<line x1="30.06" y1="110.1" x2="30.06" y2="113.1" stroke="#3c3cff" stroke-width="0.95" />
<line x1="30.89" y1="110.1" x2="30.89" y2="113.1" stroke="#3c3cff" stroke-width="0.95" />
<line x1="31.61" y1="110.1" x2="31.61" y2="113.1" stroke="#3c3cff" stroke-width="0.95" />
<line x1="32.25" y1="110.1" x2="32.25" y2="113.1" stroke="#3c3cff" stroke-width="0.95" />
<line x1="32.82" y1="110.1" x2="32.82" y2="113.6" stroke="#3c3cff" stroke-width="0.95" />
<line x1="36.55" y1="110.1" x2="36.55" y2="113.1" stroke="#3c3cff" stroke-width="0.95" />
<line x1="38.74" y1="110.1" x2="38.74" y2="113.1" stroke="#3c3cff" stroke-width="0.95" />
<line x1="40.29" y1="110.1" x2="40.29" y2="113.1" stroke="#3c3cff" stroke-width="0.95" />
<line x1="41.5" y1="110.1" x2="41.5" y2="113.1" stroke="#3c3cff" stroke-width="0.95" />
<line x1="42.48" y1="110.1" x2="42.48" y2="113.1" stroke="#3c3cff" stroke-width="0.95" />
<line x1="43.31" y1="110.1" x2="43.31" y2="113.1" stroke="#3c3cff" stroke-width="0.95" />
<line x1="44.03" y1="110.1" x2="44.03" y2="113.1" stroke="#3c3cff" stroke-width="0.95" />
<line x1="44.67" y1="110.1" x2="44.67" y2="113.1" stroke="#3c3cff" stroke-width="0.95" />
<line x1="45.23" y1="110.1" x2="45.23" y2="113.6" stroke="#3c3cff" stroke-width="0.95" />
<line x1="48.97" y1="110.1" x2="48.97" y2="113.1" stroke="#3c3cff" stroke-width="0.95" />
<line x1="51.16" y1="110.1" x2="51.16" y2="113.1" stroke="#3c3cff" stroke-width="0.95" />
<line x1="52.71" y1="110.1" x2="52.71" y2="113.1" stroke="#3c3cff" stroke-width="0.95" />
<line x1="53.91" y1="110.1" x2="53.91" y2="113.1" stroke="#3c3cff" stroke-width="0.95" />
<line x1="54.9" y1="110.1" x2="54.9" y2="113.1" stroke="#3c3cff" stroke-width="0.95" />
<line x1="55.73" y1="110.1" x2="55.73" y2="113.1" stroke="#3c3cff" stroke-width="0.95" />
<line x1="56.45" y1="110.1" x2="56.45" y2="113.1" stroke="#3c3cff" stroke-width="0.95" />
<line x1="57.08" y1="110.1" x2="57.08" y2="113.1" stroke="#3c3cff" stroke-width="0.95" />
<line x1="57.65" y1="110.1" x2="57.65" y2="113.6" stroke="#3c3cff" stroke-width="0.95" />
<line x1="61.39" y1="110.1" x2="61.39" y2="113.1" stroke="#3c3cff" stroke-width="0.95" />
<line x1="63.57" y1="110.1" x2="63.57" y2="113.1" stroke="#3c3cff" stroke-width="0.95" />
<line x1="65.13" y1="110.1" x2="65.13" y2="113.1" stroke="#3c3cff" stroke-width="0.95" />
<line x1="66.33" y1="110.1" x2="66.33" y2="113.1" stroke="#3c3cff" stroke-width="0.95" />
<line x1="67.31" y1="110.1" x2="67.31" y2="113.1" stroke="#3c3cff" stroke-width="0.95" />
<line x1="68.14" y1="110.1" x2="68.14" y2="113.1" stroke="#3c3cff" stroke-width="0.95" />
<line x1="68.86" y1="110.1" x2="68.86" y2="113.1" stroke="#3c3cff" stroke-width="0.95" />
<line x1="69.5" y1="110.1" x2="69.5" y2="113.1" stroke="#3c3cff" stroke-width="0.95" />
<line x1="70.07" y1="110.1" x2="70.07" y2="113.6" stroke="#3c3cff" stroke-width="0.95" />
<line x1="73.8" y1="110.1" x2="73.8" y2="113.1" stroke="#3c3cff" stroke-width="0.95" />
<line x1="75.99" y1="110.1" x2="75.99" y2="113.1" stroke="#3c3cff" stroke-width="0.95" />
<line x1="77.54" y1="110.1" x2="77.54" y2="113.1" stroke="#3c3cff" stroke-width="0.95" />
<line x1="78.75" y1="110.1" x2="78.75" y2="113.1" stroke="#3c3cff" stroke-width="0.95" />
<line x1="79.73" y1="110.1" x2="79.73" y2="113.1" stroke="#3c3cff" stroke-width="0.95" />
<line x1="80.56" y1="110.1" x2="80.56" y2="113.1" stroke="#3c3cff" stroke-width="0.95" />
<line x1="81.28" y1="110.1" x2="81.28" y2="113.1" stroke="#3c3cff" stroke-width="0.95" />
<line x1="81.92" y1="110.1" x2="81.92" y2="113.1" stroke="#3c3cff" stroke-width="0.95" />
<line x1="82.48" y1="110.1" x2="82.48" y2="113.6" stroke="#3c3cff" stroke-width="0.95" />
<line x1="86.22" y1="110.1" x2="86.22" y2="113.1" stroke="#3c3cff" stroke-width="0.95" />
<line x1="88.41" y1="110.1" x2="88.41" y2="113.1" stroke="#3c3cff" stroke-width="0.95" />
<line x1="89.96" y1="110.1" x2="89.96" y2="113.1" stroke="#3c3cff" stroke-width="0.95" />
<line x1="91.16" y1="110.1" x2="91.16" y2="113.1" stroke="#3c3cff" stroke-width="0.95" />
<line x1="92.15" y1="110.1" x2="92.15" y2="113.1" stroke="#3c3cff" stroke-width="0.95" />
<line x1="92.98" y1="110.1" x2="92.98" y2="113.1" stroke="#3c3cff" stroke-width="0.95" />
<line x1="93.7" y1="110.1" x2="93.7" y2="113.1" stroke="#3c3cff" stroke-width="0.95" />
<line x1="94.33" y1="110.1" x2="94.33" y2="113.1" stroke="#3c3cff" stroke-width="0.95" />
<line x1="94.9" y1="110.1" x2="94.9" y2="113.6" stroke="#3c3cff" stroke-width="0.95" />
<line x1="98.64" y1="110.1" x2="98.64" y2="113.1" stroke="#3c3cff" stroke-width="0.95" />
<line x1="100.82" y1="110.1" x2="100.82" y2="113.1" stroke="#3c3cff" stroke-width="0.95" />
<line x1="102.38" y1="110.1" x2="102.38" y2="113.1" stroke="#3c3cff" stroke-width="0.95" />
<line x1="103.58" y1="110.1" x2="103.58" y2="113.1" stroke="#3c3cff" stroke-width="0.95" />
<line x1="104.56" y1="110.1" x2="104.56" y2="113.1" stroke="#3c3cff" stroke-width="0.95" />
<line x1="105.39" y1="110.1" x2="105.39" y2="113.1" stroke="#3c3cff" stroke-width="0.95" />
<line x1="106.11" y1="110.1" x2="106.11" y2="113.1" stroke="#3c3cff" stroke-width="0.95" />
<line x1="106.75" y1="110.1" x2="106.75" y2="113.1" stroke="#3c3cff" stroke-width="0.95" />
<line x1="107.32" y1="110.1" x2="107.32" y2="113.6" stroke="#3c3cff" stroke-width="0.95" />
<line x1="109.8" y1="110.1" x2="109.8" y2="113.6" stroke="#3c3cff" stroke-width="0.95" />
<text x="13.8" y="110.1" font-size="4.6" fill="#3c3cff" stroke="#3c3cff" stroke-width="0.18" text-anchor="middle" transform="rotate(-90 13.8 110.1)">10<tspan font-size="3.45" dy="-2.07">0</tspan></text>
<text x="20.8" y="118.3" font-size="4.3" fill="#3c3cff" stroke="#3c3cff" stroke-width="0.1" text-anchor="middle" transform="rotate(-15 20.8 118.3)">10<tspan font-size="3.65" dy="-1.72">0</tspan></text>
<text x="13.8" y="97.64" font-size="4.6" fill="#3c3cff" stroke="#3c3cff" stroke-width="0.18" text-anchor="middle" transform="rotate(-90 13.8 97.64)">10<tspan font-size="3.45" dy="-2.07">1</tspan></text>
<text x="33.22" y="118.3" font-size="4.3" fill="#3c3cff" stroke="#3c3cff" stroke-width="0.1" text-anchor="middle" transform="rotate(-15 33.22 118.3)">10<tspan font-size="3.65" dy="-1.72">1</tspan></text>
<text x="13.8" y="85.18" font-size="4.6" fill="#3c3cff" stroke="#3c3cff" stroke-width="0.18" text-anchor="middle" transform="rotate(-90 13.8 85.18)">10<tspan font-size="3.45" dy="-2.07">2</tspan></text>
<text x="45.63" y="118.3" font-size="4.3" fill="#3c3cff" stroke="#3c3cff" stroke-width="0.1" text-anchor="middle" transform="rotate(-15 45.63 118.3)">10<tspan font-size="3.65" dy="-1.72">2</tspan></text>
<text x="13.8" y="72.72" font-size="4.6" fill="#3c3cff" stroke="#3c3cff" stroke-width="0.18" text-anchor="middle" transform="rotate(-90 13.8 72.72)">10<tspan font-size="3.45" dy="-2.07">3</tspan></text>
<text x="58.05" y="118.3" font-size="4.3" fill="#3c3cff" stroke="#3c3cff" stroke-width="0.1" text-anchor="middle" transform="rotate(-15 58.05 118.3)">10<tspan font-size="3.65" dy="-1.72">3</tspan></text>
<text x="13.8" y="60.27" font-size="4.6" fill="#3c3cff" stroke="#3c3cff" stroke-width="0.18" text-anchor="middle" transform="rotate(-90 13.8 60.27)">10<tspan font-size="3.45" dy="-2.07">4</tspan></text>
<text x="70.47" y="118.3" font-size="4.3" fill="#3c3cff" stroke="#3c3cff" stroke-width="0.1" text-anchor="middle" transform="rotate(-15 70.47 118.3)">10<tspan font-size="3.65" dy="-1.72">4</tspan></text>
<text x="13.8" y="47.81" font-size="4.6" fill="#3c3cff" stroke="#3c3cff" stroke-width="0.18" text-anchor="middle" transform="rotate(-90 13.8 47.81)">10<tspan font-size="3.45" dy="-2.07">5</tspan></text>
<text x="82.88" y="118.3" font-size="4.3" fill="#3c3cff" stroke="#3c3cff" stroke-width="0.1" text-anchor="middle" transform="rotate(-15 82.88 118.3)">10<tspan font-size="3.65" dy="-1.72">5</tspan></text>
<text x="13.8" y="35.35" font-size="4.6" fill="#3c3cff" stroke="#3c3cff" stroke-width="0.18" text-anchor="middle" transform="rotate(-90 13.8 35.35)">10<tspan font-size="3.45" dy="-2.07">6</tspan></text>
<text x="95.3" y="118.3" font-size="4.3" fill="#3c3cff" stroke="#3c3cff" stroke-width="0.1" text-anchor="middle" transform="rotate(-15 95.3 118.3)">10<tspan font-size="3.65" dy="-1.72">6</tspan></text>
<text x="13.8" y="18.6" font-size="4.6" fill="#3c3cff" stroke="#3c3cff" stroke-width="0.18" text-anchor="middle" transform="rotate(-90 13.8 18.6)">10<tspan font-size="3.45" dy="-2.07">7.2</tspan></text>
<text x="110.2" y="118.3" font-size="4.3" fill="#3c3cff" stroke="#3c3cff" stroke-width="0.1" text-anchor="middle" transform="rotate(-15 110.2 118.3)">10<tspan font-size="3.65" dy="-1.72">7.2</tspan></text>
<text x="20.2" y="18.6" font-size="6.3" fill="#222" text-anchor="start" font-weight="normal"  stroke="#222" stroke-width="0.15">Gate: [No Gating]</text>
<text x="7.9" y="74.4" font-size="5.6" fill="#222" text-anchor="middle" font-weight="normal" transform="rotate(-90 7.9 74.4)"  stroke="#222" stroke-width="0.15">FITC-A</text>
<text x="65.3" y="124.8" font-size="5.4" fill="#333" text-anchor="middle" font-weight="normal"  stroke="#333" stroke-width="0.15">SSC-A</text>
<polygon points="144.50,106.88 146.50,105.15 148.50,103.43 150.50,101.71 152.50,99.98 154.50,98.26 156.50,96.53 158.50,94.81 160.50,93.09 162.50,91.36 164.50,89.64 166.50,87.91 168.50,86.19 170.50,84.47 172.50,82.74 174.50,81.02 176.50,79.29 178.50,77.57 180.50,75.85 182.50,74.12 184.50,72.40 186.50,70.76 188.50,69.16 190.50,67.56 192.50,65.95 194.50,64.35 196.50,62.74 198.50,61.14 200.50,59.54 202.50,57.93 204.50,56.33 206.50,54.72 208.50,53.12 208.50,54.30 206.50,56.14 204.50,57.99 202.50,59.83 200.50,61.68 198.50,63.52 196.50,65.36 194.50,67.21 192.50,69.05 190.50,70.90 188.50,72.74 186.50,74.58 184.50,76.40 182.50,78.12 180.50,79.85 178.50,81.57 176.50,83.29 174.50,85.02 172.50,86.74 170.50,88.47 168.50,90.19 166.50,91.91 164.50,93.64 162.50,95.36 160.50,97.09 158.50,98.81 156.50,100.53 154.50,102.26 152.50,103.98 150.50,105.71 148.50,107.43 146.50,109.15 144.50,109.30" fill="#5c9a26"/>
<path d="M186.7 72.4h1v1h-1zM217.0 46.6h1v1h-1zM182.8 74.7h1v1h-1zM196.8 63.1h1v1h-1zM169.3 88.1h1v1h-1zM196.0 64.0h1v1h-1zM173.3 84.0h1v1h-1zM187.4 73.7h1v1h-1zM176.4 79.6h1v1h-1zM223.7 40.0h1v1h-1zM155.4 100.5h1v1h-1zM222.1 42.5h1v1h-1zM214.8 47.2h1v1h-1zM208.4 55.9h1v1h-1zM154.4 100.2h1v1h-1zM192.1 67.8h1v1h-1zM174.1 83.3h1v1h-1zM165.8 90.5h1v1h-1zM210.2 52.1h1v1h-1zM195.3 65.4h1v1h-1zM162.6 94.3h1v1h-1zM183.9 76.2h1v1h-1zM203.1 58.7h1v1h-1zM183.2 75.8h1v1h-1zM190.7 69.2h1v1h-1zM204.1 57.2h1v1h-1zM199.4 61.2h1v1h-1zM150.3 104.3h1v1h-1zM188.1 70.6h1v1h-1zM147.3 107.4h1v1h-1zM188.2 72.3h1v1h-1zM217.9 46.1h1v1h-1zM208.0 53.5h1v1h-1zM189.8 70.9h1v1h-1zM160.9 94.5h1v1h-1zM199.6 61.5h1v1h-1zM180.0 79.1h1v1h-1zM221.5 43.3h1v1h-1zM186.4 73.7h1v1h-1zM157.0 97.3h1v1h-1zM160.4 96.6h1v1h-1zM154.4 100.7h1v1h-1zM176.7 83.0h1v1h-1zM207.0 55.5h1v1h-1zM171.3 86.5h1v1h-1zM198.6 62.1h1v1h-1zM190.3 69.9h1v1h-1zM182.4 78.2h1v1h-1zM163.0 93.1h1v1h-1zM186.9 71.3h1v1h-1zM172.4 85.4h1v1h-1zM166.9 89.9h1v1h-1zM151.0 102.4h1v1h-1zM166.2 90.3h1v1h-1zM163.9 92.7h1v1h-1zM216.0 47.5h1v1h-1zM152.6 99.8h1v1h-1zM145.7 107.2h1v1h-1zM174.2 81.9h1v1h-1zM198.0 62.8h1v1h-1zM192.0 69.8h1v1h-1zM151.4 104.3h1v1h-1zM154.8 100.3h1v1h-1zM146.3 108.2h1v1h-1zM192.8 68.0h1v1h-1zM199.5 63.2h1v1h-1zM209.5 52.0h1v1h-1zM164.2 93.8h1v1h-1zM151.1 103.3h1v1h-1zM202.3 58.4h1v1h-1zM197.6 61.8h1v1h-1zM219.3 42.4h1v1h-1zM201.3 61.0h1v1h-1zM192.0 67.6h1v1h-1zM175.5 82.3h1v1h-1zM217.7 47.0h1v1h-1zM198.3 63.7h1v1h-1zM162.3 91.0h1v1h-1zM198.6 61.9h1v1h-1zM182.6 75.4h1v1h-1zM218.4 44.7h1v1h-1zM153.3 101.9h1v1h-1zM167.9 89.2h1v1h-1zM155.3 98.4h1v1h-1zM189.5 68.4h1v1h-1zM151.4 103.4h1v1h-1zM170.0 87.0h1v1h-1zM157.4 98.1h1v1h-1zM177.1 81.5h1v1h-1zM148.4 108.6h1v1h-1zM149.2 105.0h1v1h-1zM222.3 41.4h1v1h-1zM184.9 76.3h1v1h-1zM191.9 68.1h1v1h-1zM194.0 66.2h1v1h-1zM145.5 108.7h1v1h-1zM210.0 52.2h1v1h-1zM210.5 52.6h1v1h-1zM155.3 100.0h1v1h-1zM208.8 53.1h1v1h-1zM170.7 87.1h1v1h-1zM160.6 96.3h1v1h-1zM208.3 54.2h1v1h-1zM215.7 48.6h1v1h-1zM154.5 99.9h1v1h-1zM176.7 81.9h1v1h-1zM200.0 61.3h1v1h-1zM210.1 53.4h1v1h-1zM164.0 90.7h1v1h-1zM182.5 75.3h1v1h-1zM195.2 65.6h1v1h-1zM215.6 48.0h1v1h-1zM186.6 73.3h1v1h-1zM157.3 98.6h1v1h-1zM221.5 43.0h1v1h-1zM212.2 53.0h1v1h-1zM207.5 54.1h1v1h-1zM196.0 63.8h1v1h-1zM219.9 43.4h1v1h-1zM193.6 66.3h1v1h-1zM196.2 63.9h1v1h-1zM171.0 86.2h1v1h-1zM174.5 81.7h1v1h-1zM214.4 48.2h1v1h-1zM183.9 74.9h1v1h-1zM159.6 97.0h1v1h-1zM176.4 82.2h1v1h-1zM202.9 57.6h1v1h-1zM223.2 41.0h1v1h-1zM220.5 41.8h1v1h-1zM204.5 56.5h1v1h-1zM160.4 95.0h1v1h-1zM158.6 96.8h1v1h-1zM198.7 60.3h1v1h-1zM212.8 50.9h1v1h-1zM216.8 47.0h1v1h-1zM168.5 87.7h1v1h-1zM196.4 64.4h1v1h-1zM201.2 59.5h1v1h-1zM199.9 62.4h1v1h-1zM185.3 74.0h1v1h-1zM151.3 104.4h1v1h-1zM157.1 97.3h1v1h-1zM209.9 52.1h1v1h-1zM151.1 103.0h1v1h-1zM156.5 97.7h1v1h-1zM213.1 48.3h1v1h-1zM219.5 43.9h1v1h-1zM168.6 88.8h1v1h-1zM206.6 56.3h1v1h-1zM156.3 99.3h1v1h-1zM210.5 50.4h1v1h-1zM148.7 106.5h1v1h-1zM155.4 98.7h1v1h-1zM178.7 78.5h1v1h-1zM144.3 108.6h1v1h-1zM167.9 89.8h1v1h-1zM195.6 64.7h1v1h-1zM162.3 94.3h1v1h-1zM186.3 72.0h1v1h-1zM212.8 50.2h1v1h-1zM170.2 85.3h1v1h-1zM206.2 57.4h1v1h-1zM165.6 89.0h1v1h-1zM201.4 58.4h1v1h-1zM185.5 73.5h1v1h-1zM147.7 105.7h1v1h-1zM179.8 79.2h1v1h-1zM212.7 49.0h1v1h-1zM148.0 105.5h1v1h-1zM185.6 74.3h1v1h-1zM156.0 98.3h1v1h-1zM222.9 40.2h1v1h-1zM212.5 51.6h1v1h-1zM180.1 78.9h1v1h-1zM162.8 92.9h1v1h-1zM157.6 96.9h1v1h-1zM212.1 50.2h1v1h-1zM220.8 42.6h1v1h-1zM148.9 105.8h1v1h-1zM184.4 75.5h1v1h-1zM158.5 95.8h1v1h-1zM202.2 58.5h1v1h-1zM174.3 84.5h1v1h-1zM180.9 77.9h1v1h-1zM161.9 93.7h1v1h-1zM186.6 72.6h1v1h-1zM147.4 105.2h1v1h-1zM153.4 101.3h1v1h-1zM175.1 82.1h1v1h-1zM188.6 69.4h1v1h-1zM167.7 88.4h1v1h-1zM162.0 93.4h1v1h-1zM166.0 88.7h1v1h-1zM222.0 41.3h1v1h-1zM218.8 45.1h1v1h-1zM144.5 107.5h1v1h-1zM170.2 86.9h1v1h-1zM181.5 76.4h1v1h-1zM145.6 105.7h1v1h-1zM160.8 96.0h1v1h-1zM168.8 87.8h1v1h-1zM200.9 62.2h1v1h-1zM193.4 65.1h1v1h-1zM186.6 73.7h1v1h-1zM216.9 47.8h1v1h-1zM161.6 93.7h1v1h-1zM175.9 81.9h1v1h-1zM193.2 67.6h1v1h-1zM223.5 41.1h1v1h-1zM212.0 51.9h1v1h-1zM162.7 93.2h1v1h-1zM167.7 87.0h1v1h-1zM214.5 49.4h1v1h-1zM177.5 81.7h1v1h-1zM213.8 49.7h1v1h-1zM204.9 58.9h1v1h-1zM156.3 100.8h1v1h-1zM221.7 44.5h1v1h-1zM201.1 60.2h1v1h-1zM155.3 99.4h1v1h-1zM216.9 46.1h1v1h-1zM213.7 49.5h1v1h-1zM205.9 55.9h1v1h-1zM146.2 106.7h1v1h-1zM223.2 40.2h1v1h-1zM201.3 61.3h1v1h-1zM151.2 102.4h1v1h-1zM221.1 44.0h1v1h-1zM155.9 97.9h1v1h-1zM148.2 106.8h1v1h-1zM186.0 73.4h1v1h-1zM144.5 108.3h1v1h-1zM185.3 72.3h1v1h-1zM222.4 42.8h1v1h-1zM166.7 88.6h1v1h-1zM221.6 41.7h1v1h-1zM153.4 101.8h1v1h-1zM144.2 107.3h1v1h-1zM190.5 67.8h1v1h-1zM160.7 95.1h1v1h-1zM205.2 57.0h1v1h-1zM146.9 106.5h1v1h-1zM185.4 72.8h1v1h-1zM221.5 44.2h1v1h-1zM182.2 76.4h1v1h-1zM223.5 40.9h1v1h-1zM171.5 87.0h1v1h-1zM172.7 83.2h1v1h-1zM167.0 89.2h1v1h-1zM184.9 74.3h1v1h-1zM216.0 48.6h1v1h-1zM199.9 60.0h1v1h-1zM153.4 101.1h1v1h-1zM183.7 73.9h1v1h-1zM208.5 52.3h1v1h-1zM214.7 48.7h1v1h-1zM146.5 105.7h1v1h-1zM161.5 95.0h1v1h-1zM183.1 76.2h1v1h-1zM149.5 101.9h1v1h-1zM177.2 82.8h1v1h-1zM206.4 55.5h1v1h-1zM170.6 85.9h1v1h-1zM160.5 94.5h1v1h-1zM199.6 61.2h1v1h-1zM192.6 69.3h1v1h-1zM157.7 95.9h1v1h-1zM176.6 80.1h1v1h-1zM173.8 84.8h1v1h-1zM207.5 54.0h1v1h-1zM217.4 46.8h1v1h-1zM221.5 42.3h1v1h-1zM202.8 57.7h1v1h-1zM215.4 48.6h1v1h-1zM145.4 107.2h1v1h-1zM210.0 51.8h1v1h-1zM179.2 79.8h1v1h-1zM182.3 75.6h1v1h-1zM195.5 64.8h1v1h-1zM196.3 63.2h1v1h-1zM203.9 57.7h1v1h-1zM148.8 104.7h1v1h-1zM150.5 105.2h1v1h-1zM147.3 107.4h1v1h-1zM199.0 61.6h1v1h-1zM174.6 82.9h1v1h-1zM223.8 41.3h1v1h-1zM168.0 86.8h1v1h-1zM162.4 93.4h1v1h-1zM161.8 94.8h1v1h-1zM165.6 91.9h1v1h-1zM147.1 105.7h1v1h-1zM180.4 77.7h1v1h-1zM170.5 86.7h1v1h-1zM166.4 89.0h1v1h-1zM167.1 89.2h1v1h-1zM206.3 55.2h1v1h-1zM188.9 72.1h1v1h-1zM218.3 43.3h1v1h-1zM175.9 82.5h1v1h-1zM146.9 107.1h1v1h-1zM156.1 98.5h1v1h-1zM186.4 73.2h1v1h-1zM195.9 63.4h1v1h-1zM158.4 97.1h1v1h-1zM150.0 104.6h1v1h-1zM194.6 63.3h1v1h-1zM215.8 47.2h1v1h-1zM197.7 62.5h1v1h-1zM209.7 52.5h1v1h-1zM166.7 90.4h1v1h-1zM154.2 101.3h1v1h-1zM154.1 100.2h1v1h-1zM222.3 41.7h1v1h-1zM193.0 67.2h1v1h-1zM185.1 74.8h1v1h-1zM175.6 82.7h1v1h-1zM151.4 103.2h1v1h-1zM223.7 40.2h1v1h-1zM183.5 75.0h1v1h-1zM181.0 78.3h1v1h-1zM149.9 102.3h1v1h-1zM153.2 101.1h1v1h-1zM159.7 97.9h1v1h-1zM145.8 105.6h1v1h-1zM219.1 43.0h1v1h-1zM201.6 60.6h1v1h-1zM205.5 56.2h1v1h-1zM150.1 104.5h1v1h-1zM205.6 55.3h1v1h-1zM193.5 67.5h1v1h-1zM171.2 86.9h1v1h-1zM154.9 101.0h1v1h-1zM210.2 54.3h1v1h-1zM179.7 78.8h1v1h-1zM151.6 103.2h1v1h-1zM184.2 75.4h1v1h-1zM212.8 47.9h1v1h-1zM219.0 44.6h1v1h-1zM205.8 54.6h1v1h-1zM202.3 58.4h1v1h-1zM162.5 94.3h1v1h-1zM164.7 91.7h1v1h-1zM149.3 104.1h1v1h-1zM205.2 56.2h1v1h-1zM147.8 106.1h1v1h-1zM146.4 108.6h1v1h-1zM197.3 63.7h1v1h-1zM178.2 79.0h1v1h-1zM157.5 97.9h1v1h-1zM223.8 41.4h1v1h-1zM179.7 76.8h1v1h-1zM202.4 59.0h1v1h-1zM157.5 96.3h1v1h-1zM149.8 102.9h1v1h-1zM169.1 89.0h1v1h-1zM201.9 61.6h1v1h-1zM209.0 55.2h1v1h-1zM209.4 52.1h1v1h-1zM188.8 69.0h1v1h-1zM212.7 50.8h1v1h-1zM220.6 40.9h1v1h-1zM221.2 42.3h1v1h-1zM180.7 78.9h1v1h-1zM172.6 83.9h1v1h-1zM206.0 54.9h1v1h-1zM194.0 66.7h1v1h-1zM209.7 51.9h1v1h-1zM207.7 54.5h1v1h-1zM190.0 68.8h1v1h-1zM169.5 87.6h1v1h-1zM191.2 68.5h1v1h-1zM198.1 63.1h1v1h-1zM194.7 65.8h1v1h-1zM146.4 106.8h1v1h-1zM156.4 98.3h1v1h-1zM159.4 98.5h1v1h-1zM190.5 70.0h1v1h-1zM220.1 43.1h1v1h-1zM223.0 41.9h1v1h-1zM155.8 100.2h1v1h-1zM161.5 93.9h1v1h-1zM150.4 101.9h1v1h-1zM171.3 85.1h1v1h-1zM214.7 48.2h1v1h-1zM176.8 80.7h1v1h-1zM170.1 86.0h1v1h-1zM183.1 74.4h1v1h-1zM215.9 46.4h1v1h-1zM147.4 106.4h1v1h-1zM196.6 62.9h1v1h-1zM214.5 48.2h1v1h-1zM202.3 59.9h1v1h-1zM219.9 44.1h1v1h-1zM172.6 84.0h1v1h-1zM193.1 66.7h1v1h-1zM185.0 75.7h1v1h-1zM222.1 40.9h1v1h-1zM171.6 84.0h1v1h-1zM198.9 61.7h1v1h-1zM187.5 71.0h1v1h-1zM206.0 55.5h1v1h-1zM213.3 50.0h1v1h-1zM201.3 60.3h1v1h-1zM165.1 91.9h1v1h-1zM221.1 43.5h1v1h-1zM219.1 44.5h1v1h-1zM166.9 89.1h1v1h-1zM172.7 84.7h1v1h-1zM220.8 43.0h1v1h-1zM177.3 81.3h1v1h-1zM192.7 67.5h1v1h-1zM202.9 57.7h1v1h-1zM186.2 72.2h1v1h-1zM170.2 85.2h1v1h-1zM183.7 74.7h1v1h-1zM204.1 58.8h1v1h-1zM208.9 52.5h1v1h-1zM148.3 104.0h1v1h-1zM174.2 82.8h1v1h-1zM151.1 102.6h1v1h-1zM192.5 68.9h1v1h-1zM204.4 55.4h1v1h-1zM168.6 89.6h1v1h-1zM207.1 54.6h1v1h-1zM183.9 75.4h1v1h-1zM195.4 65.4h1v1h-1zM148.0 105.5h1v1h-1zM181.5 77.9h1v1h-1zM173.5 82.7h1v1h-1zM163.2 93.7h1v1h-1zM154.0 99.2h1v1h-1zM202.7 56.6h1v1h-1zM201.7 59.6h1v1h-1zM193.7 66.8h1v1h-1zM198.4 62.1h1v1h-1zM163.3 93.9h1v1h-1zM159.4 97.3h1v1h-1zM206.8 56.0h1v1h-1zM198.0 64.5h1v1h-1zM192.1 68.4h1v1h-1zM176.9 81.6h1v1h-1zM207.2 56.6h1v1h-1zM159.5 96.4h1v1h-1zM206.0 57.0h1v1h-1zM210.0 52.9h1v1h-1zM204.7 55.8h1v1h-1zM181.7 76.5h1v1h-1zM200.1 61.1h1v1h-1zM212.4 50.2h1v1h-1zM206.9 55.9h1v1h-1zM148.4 105.3h1v1h-1zM152.7 100.3h1v1h-1zM177.6 80.8h1v1h-1zM201.1 60.6h1v1h-1zM162.6 94.7h1v1h-1zM198.1 64.3h1v1h-1zM217.0 46.1h1v1h-1zM199.7 61.9h1v1h-1zM212.1 50.9h1v1h-1zM192.1 67.7h1v1h-1zM192.3 68.6h1v1h-1zM165.7 91.2h1v1h-1zM215.2 48.1h1v1h-1zM204.7 57.3h1v1h-1zM223.2 42.6h1v1h-1zM208.5 52.8h1v1h-1zM216.0 46.6h1v1h-1zM176.2 79.3h1v1h-1zM188.4 71.0h1v1h-1zM205.4 56.5h1v1h-1zM167.1 88.6h1v1h-1zM214.0 47.6h1v1h-1zM160.9 94.9h1v1h-1zM157.6 98.4h1v1h-1zM188.4 70.0h1v1h-1zM148.1 104.6h1v1h-1zM147.2 105.5h1v1h-1zM199.2 61.9h1v1h-1zM193.8 66.0h1v1h-1zM216.0 46.2h1v1h-1zM172.6 87.6h1v1h-1zM208.6 52.5h1v1h-1zM149.9 103.0h1v1h-1zM206.8 55.5h1v1h-1zM217.9 45.7h1v1h-1zM195.7 66.1h1v1h-1zM145.0 108.5h1v1h-1zM198.9 61.5h1v1h-1zM207.2 55.5h1v1h-1zM205.5 57.3h1v1h-1zM216.7 48.6h1v1h-1zM208.4 53.8h1v1h-1zM191.3 67.1h1v1h-1zM147.2 105.5h1v1h-1zM164.6 91.5h1v1h-1zM145.3 108.2h1v1h-1zM207.6 54.0h1v1h-1zM158.2 97.2h1v1h-1zM151.1 104.4h1v1h-1zM149.9 104.0h1v1h-1z" fill="#4e8f22" fill-opacity="0.55"/>
<path d="M175.3 82.4h.9v.9h-.9zM182.3 75.7h.9v.9h-.9zM169.5 88.8h.9v.9h-.9zM151.9 102.5h.9v.9h-.9zM161.4 94.1h.9v.9h-.9zM160.9 95.2h.9v.9h-.9zM173.5 84.7h.9v.9h-.9zM152.0 102.8h.9v.9h-.9zM149.8 104.0h.9v.9h-.9zM158.2 98.2h.9v.9h-.9zM177.5 80.1h.9v.9h-.9zM170.6 88.5h.9v.9h-.9zM165.0 90.8h.9v.9h-.9zM146.3 106.4h.9v.9h-.9zM176.0 81.3h.9v.9h-.9zM146.8 107.4h.9v.9h-.9zM163.8 93.3h.9v.9h-.9zM184.9 73.3h.9v.9h-.9zM147.6 105.6h.9v.9h-.9zM166.1 91.1h.9v.9h-.9zM170.2 87.3h.9v.9h-.9zM176.0 81.6h.9v.9h-.9zM167.4 87.3h.9v.9h-.9zM188.0 72.7h.9v.9h-.9zM149.6 105.5h.9v.9h-.9zM145.6 108.8h.9v.9h-.9zM151.4 102.7h.9v.9h-.9zM161.7 93.9h.9v.9h-.9zM151.3 101.7h.9v.9h-.9zM173.8 83.5h.9v.9h-.9zM172.6 84.2h.9v.9h-.9zM171.7 85.2h.9v.9h-.9zM179.3 77.5h.9v.9h-.9zM158.8 97.6h.9v.9h-.9zM146.7 107.2h.9v.9h-.9zM183.6 78.1h.9v.9h-.9zM160.9 94.8h.9v.9h-.9zM165.5 91.1h.9v.9h-.9zM168.5 89.4h.9v.9h-.9zM145.3 107.7h.9v.9h-.9zM153.0 99.7h.9v.9h-.9zM168.2 87.6h.9v.9h-.9zM149.9 103.2h.9v.9h-.9zM159.7 95.8h.9v.9h-.9zM152.8 101.3h.9v.9h-.9zM170.4 86.3h.9v.9h-.9zM155.9 98.8h.9v.9h-.9zM178.1 79.0h.9v.9h-.9zM145.3 105.7h.9v.9h-.9zM150.7 103.5h.9v.9h-.9zM180.3 79.9h.9v.9h-.9zM175.5 82.8h.9v.9h-.9zM169.2 88.5h.9v.9h-.9zM160.5 94.9h.9v.9h-.9zM152.0 103.7h.9v.9h-.9zM157.7 97.2h.9v.9h-.9zM167.2 89.4h.9v.9h-.9zM170.9 86.9h.9v.9h-.9zM167.6 88.0h.9v.9h-.9zM174.8 81.8h.9v.9h-.9zM162.0 92.5h.9v.9h-.9zM186.0 72.5h.9v.9h-.9zM158.1 96.6h.9v.9h-.9zM184.7 74.4h.9v.9h-.9zM147.0 106.2h.9v.9h-.9zM182.4 75.6h.9v.9h-.9zM184.3 75.4h.9v.9h-.9zM170.6 86.8h.9v.9h-.9zM152.3 103.1h.9v.9h-.9zM173.8 83.3h.9v.9h-.9zM161.0 94.5h.9v.9h-.9zM168.8 86.5h.9v.9h-.9zM161.6 94.6h.9v.9h-.9zM177.9 79.5h.9v.9h-.9zM173.7 81.5h.9v.9h-.9zM144.2 108.9h.9v.9h-.9zM183.6 77.0h.9v.9h-.9zM153.5 100.0h.9v.9h-.9zM162.6 92.9h.9v.9h-.9zM163.2 93.3h.9v.9h-.9zM168.4 87.6h.9v.9h-.9zM173.2 82.8h.9v.9h-.9zM156.9 97.5h.9v.9h-.9zM176.3 82.0h.9v.9h-.9zM177.6 80.7h.9v.9h-.9zM151.0 102.2h.9v.9h-.9zM161.6 93.7h.9v.9h-.9zM171.9 86.0h.9v.9h-.9zM144.7 107.0h.9v.9h-.9zM146.5 108.1h.9v.9h-.9zM171.8 86.4h.9v.9h-.9zM147.8 106.2h.9v.9h-.9zM162.4 92.8h.9v.9h-.9z" fill="#c0302a" fill-opacity="0.45"/>
<path d="M201.6 56.2h.9v.9h-.9zM159.8 91.8h.9v.9h-.9zM150.8 91.4h.9v.9h-.9zM149.1 100.5h.9v.9h-.9zM170.2 78.8h.9v.9h-.9zM181.9 68.5h.9v.9h-.9zM197.1 53.3h.9v.9h-.9zM200.6 58.1h.9v.9h-.9zM201.7 56.3h.9v.9h-.9zM204.1 50.7h.9v.9h-.9zM189.6 58.1h.9v.9h-.9zM169.3 82.1h.9v.9h-.9zM185.3 64.6h.9v.9h-.9zM214.5 43.2h.9v.9h-.9zM155.4 92.6h.9v.9h-.9zM207.9 48.4h.9v.9h-.9zM205.1 47.6h.9v.9h-.9zM175.8 73.0h.9v.9h-.9zM183.2 68.2h.9v.9h-.9zM176.2 76.7h.9v.9h-.9zM185.0 71.2h.9v.9h-.9zM209.4 42.4h.9v.9h-.9zM157.2 86.2h.9v.9h-.9zM214.1 44.6h.9v.9h-.9zM188.3 64.6h.9v.9h-.9zM188.3 65.4h.9v.9h-.9zM157.1 89.5h.9v.9h-.9zM185.5 69.9h.9v.9h-.9zM145.3 104.5h.9v.9h-.9zM150.5 97.5h.9v.9h-.9zM188.0 65.8h.9v.9h-.9zM194.8 62.4h.9v.9h-.9zM166.9 85.5h.9v.9h-.9zM169.4 84.9h.9v.9h-.9zM162.4 89.3h.9v.9h-.9zM145.8 104.1h.9v.9h-.9zM197.6 58.1h.9v.9h-.9zM158.2 91.9h.9v.9h-.9zM151.4 100.6h.9v.9h-.9zM148.4 100.9h.9v.9h-.9zM165.1 85.6h.9v.9h-.9zM201.9 49.3h.9v.9h-.9zM196.4 61.9h.9v.9h-.9zM149.0 98.5h.9v.9h-.9zM197.0 60.4h.9v.9h-.9zM155.0 93.3h.9v.9h-.9zM154.7 94.7h.9v.9h-.9zM171.4 80.7h.9v.9h-.9zM146.4 100.6h.9v.9h-.9zM145.7 98.3h.9v.9h-.9zM149.3 100.7h.9v.9h-.9zM147.1 99.6h.9v.9h-.9zM154.9 95.5h.9v.9h-.9zM178.2 69.8h.9v.9h-.9zM149.0 94.4h.9v.9h-.9zM175.3 80.0h.9v.9h-.9zM157.5 91.1h.9v.9h-.9zM147.4 101.9h.9v.9h-.9zM160.8 90.8h.9v.9h-.9zM149.4 96.0h.9v.9h-.9zM172.1 82.6h.9v.9h-.9zM171.3 83.3h.9v.9h-.9zM173.4 76.2h.9v.9h-.9zM185.1 66.7h.9v.9h-.9zM192.4 59.0h.9v.9h-.9zM164.1 87.5h.9v.9h-.9zM180.9 73.7h.9v.9h-.9zM147.7 103.7h.9v.9h-.9zM150.5 100.4h.9v.9h-.9zM193.1 55.6h.9v.9h-.9zM210.3 49.4h.9v.9h-.9zM210.3 44.8h.9v.9h-.9zM214.3 44.3h.9v.9h-.9zM153.7 96.5h.9v.9h-.9zM170.3 82.8h.9v.9h-.9zM166.8 76.2h.9v.9h-.9zM186.5 66.2h.9v.9h-.9zM181.6 74.4h.9v.9h-.9zM150.3 93.8h.9v.9h-.9zM179.6 75.3h.9v.9h-.9zM151.9 99.3h.9v.9h-.9zM170.0 76.8h.9v.9h-.9zM202.6 51.5h.9v.9h-.9zM145.4 105.0h.9v.9h-.9zM203.4 52.3h.9v.9h-.9zM175.6 75.1h.9v.9h-.9zM156.2 93.4h.9v.9h-.9zM205.9 48.7h.9v.9h-.9zM153.2 90.6h.9v.9h-.9zM152.6 95.3h.9v.9h-.9zM156.9 95.6h.9v.9h-.9zM192.4 61.7h.9v.9h-.9zM171.6 80.2h.9v.9h-.9zM152.5 93.4h.9v.9h-.9zM196.2 61.6h.9v.9h-.9zM154.0 93.7h.9v.9h-.9zM211.5 46.3h.9v.9h-.9zM163.5 88.4h.9v.9h-.9zM194.6 61.3h.9v.9h-.9zM179.7 73.8h.9v.9h-.9zM179.2 72.4h.9v.9h-.9zM152.3 94.4h.9v.9h-.9zM145.4 104.7h.9v.9h-.9zM211.6 46.5h.9v.9h-.9zM200.4 54.5h.9v.9h-.9zM212.0 43.6h.9v.9h-.9zM194.5 62.5h.9v.9h-.9zM181.1 71.8h.9v.9h-.9zM176.0 77.9h.9v.9h-.9zM157.9 94.7h.9v.9h-.9zM155.4 96.6h.9v.9h-.9z" fill="#7aaa45" fill-opacity="0.75"/>
<path d="M145.1 98.4h.9v.9h-.9zM159.7 91.3h.9v.9h-.9zM158.0 95.0h.9v.9h-.9zM212.1 43.0h.9v.9h-.9zM154.3 95.9h.9v.9h-.9zM193.4 64.5h.9v.9h-.9zM188.6 68.1h.9v.9h-.9zM180.0 74.6h.9v.9h-.9zM147.0 99.8h.9v.9h-.9zM190.9 58.3h.9v.9h-.9zM149.2 95.7h.9v.9h-.9zM152.2 99.5h.9v.9h-.9zM171.2 78.4h.9v.9h-.9zM154.3 95.4h.9v.9h-.9zM174.5 80.2h.9v.9h-.9zM187.3 64.4h.9v.9h-.9zM199.8 58.4h.9v.9h-.9zM190.0 62.5h.9v.9h-.9zM156.0 88.5h.9v.9h-.9zM157.7 91.0h.9v.9h-.9zM207.3 50.9h.9v.9h-.9zM174.4 74.3h.9v.9h-.9zM187.2 65.6h.9v.9h-.9zM197.3 57.6h.9v.9h-.9zM157.5 93.2h.9v.9h-.9zM150.2 97.8h.9v.9h-.9zM203.9 53.0h.9v.9h-.9zM188.7 68.4h.9v.9h-.9zM145.4 98.8h.9v.9h-.9z" fill="#d85060" fill-opacity="0.7"/>
<polygon points="142.9,107.56 229.8,32.9 229.6,35.8 228.4,38.9 147.14,109.3" fill="none" stroke="#d3344c" stroke-width="0.9" stroke-linejoin="round"/>
<text x="146.3" y="29.4" font-size="6.3" fill="#d8344f" text-anchor="start" font-weight="normal"  stroke="#d8344f" stroke-width="0.22">Single Cells</text>
<text x="146.3" y="34.9" font-size="6.3" fill="#d8344f" text-anchor="start" font-weight="normal"  stroke="#d8344f" stroke-width="0.22">99.4%</text>
<rect x="142.1" y="19.6" width="90.1" height="89.7" fill="none" stroke="#4646ff" stroke-width="1"/>
<line x1="138.9" y1="19.6" x2="142.1" y2="19.6" stroke="#4646ff" stroke-width="0.9" />
<line x1="232.2" y1="109.3" x2="232.2" y2="112.5" stroke="#4646ff" stroke-width="0.9" />
<line x1="138.9" y1="109.3" x2="142.1" y2="109.3" stroke="#4646ff" stroke-width="0.8" />
<line x1="142.1" y1="109.3" x2="142.1" y2="112.3" stroke="#4646ff" stroke-width="0.8" />
<line x1="138.9" y1="81.1" x2="142.1" y2="81.1" stroke="#4646ff" stroke-width="0.8" />
<line x1="172.5" y1="109.3" x2="172.5" y2="112.3" stroke="#4646ff" stroke-width="0.8" />
<line x1="138.9" y1="52.9" x2="142.1" y2="52.9" stroke="#4646ff" stroke-width="0.8" />
<line x1="202.9" y1="109.3" x2="202.9" y2="112.3" stroke="#4646ff" stroke-width="0.8" />
<line x1="138.9" y1="24.42" x2="142.1" y2="24.42" stroke="#4646ff" stroke-width="0.8" />
<line x1="232.2" y1="109.3" x2="232.2" y2="112.3" stroke="#4646ff" stroke-width="0.8" />
<text x="136.3" y="109.3" font-size="5" fill="#3c3cff" text-anchor="middle" font-weight="normal" transform="rotate(-90 136.3 109.3)"  stroke="#3c3cff" stroke-width="0.18">0</text>
<text x="136.3" y="81.1" font-size="5" fill="#3c3cff" text-anchor="middle" font-weight="normal" transform="rotate(-90 136.3 81.1)"  stroke="#3c3cff" stroke-width="0.18">500,000</text>
<text x="136.3" y="52.9" font-size="5" fill="#3c3cff" text-anchor="middle" font-weight="normal" transform="rotate(-90 136.3 52.9)"  stroke="#3c3cff" stroke-width="0.18">1,000,000</text>
<text x="136.3" y="21.5" font-size="5" fill="#3c3cff" text-anchor="middle" font-weight="normal" transform="rotate(-90 136.3 21.5)"  stroke="#3c3cff" stroke-width="0.18">1,481,2</text>
<text x="142.1" y="118.6" font-size="5" fill="#3c3cff" text-anchor="middle" font-weight="normal"  stroke="#3c3cff" stroke-width="0.18">0</text>
<text x="172.5" y="118.6" font-size="5" fill="#3c3cff" text-anchor="middle" font-weight="normal"  stroke="#3c3cff" stroke-width="0.18">500,000</text>
<text x="202.9" y="118.6" font-size="5" fill="#3c3cff" text-anchor="middle" font-weight="normal"  stroke="#3c3cff" stroke-width="0.18">1,000,000</text>
<text x="232.4" y="118.6" font-size="5" fill="#3c3cff" text-anchor="middle" font-weight="normal"  stroke="#3c3cff" stroke-width="0.18">1,479,206</text>
<text x="142.2" y="18.2" font-size="6.3" fill="#222" text-anchor="start" font-weight="normal"  stroke="#222" stroke-width="0.15">Gate: CD41+</text>
<text x="130.6" y="74.2" font-size="5.6" fill="#222" text-anchor="middle" font-weight="normal" transform="rotate(-90 130.6 74.2)"  stroke="#222" stroke-width="0.15">FSC-A</text>
<text x="187" y="124.3" font-size="5.6" fill="#222" text-anchor="middle" font-weight="normal"  stroke="#222" stroke-width="0.15">FSC-H</text>
<polygon points="265.70,109.00 265.70,105.67 266.33,105.37 266.97,104.98 267.60,104.72 268.26,103.95 268.91,103.72 269.57,101.98 270.23,102.11 270.89,102.29 271.54,101.39 272.20,101.26 272.84,99.52 273.49,99.37 274.13,98.42 274.77,98.19 275.41,97.59 276.06,96.16 276.70,95.80 277.37,94.37 278.03,93.75 278.70,92.02 279.37,89.66 280.03,89.03 280.70,86.59 281.34,85.02 281.98,82.10 282.62,79.68 283.26,78.66 283.90,75.49 284.50,71.74 285.10,69.04 285.70,65.12 286.30,61.27 286.90,59.18 287.50,55.55 288.40,51.75 289.10,48.39 289.90,51.82 290.70,55.77 291.30,59.19 291.90,62.12 292.50,64.32 293.10,68.17 293.70,71.67 294.30,75.40 295.10,80.89 295.90,86.82 296.65,92.89 297.40,97.70 298.10,106.55 298.60,109.00" fill="#5b9a2b"/>
<line x1="299.8" y1="19.6" x2="299.8" y2="109" stroke="#d3344c" stroke-width="0.9" />
<text x="268" y="28" font-size="6.2" fill="#d8344f" text-anchor="start" font-weight="normal"  stroke="#d8344f" stroke-width="0.22">CD62P-</text>
<text x="268" y="33.9" font-size="6.2" fill="#d8344f" text-anchor="start" font-weight="normal"  stroke="#d8344f" stroke-width="0.22">99.9%</text>
<text x="327" y="28" font-size="6.2" fill="#d8344f" text-anchor="start" font-weight="normal"  stroke="#d8344f" stroke-width="0.22">CD62P+</text>
<text x="327" y="33.9" font-size="6.2" fill="#d8344f" text-anchor="start" font-weight="normal"  stroke="#d8344f" stroke-width="0.22">0.1%</text>
<rect x="265.5" y="19.6" width="88.8" height="89.4" fill="none" stroke="#4646ff" stroke-width="1"/>
<line x1="262.3" y1="19.6" x2="265.5" y2="19.6" stroke="#4646ff" stroke-width="0.9" />
<line x1="354.3" y1="109" x2="354.3" y2="112.2" stroke="#4646ff" stroke-width="0.9" />
<line x1="262.5" y1="109" x2="265.5" y2="109" stroke="#4646ff" stroke-width="0.8" />
<line x1="262.5" y1="81" x2="265.5" y2="81" stroke="#4646ff" stroke-width="0.8" />
<line x1="262.5" y1="53" x2="265.5" y2="53" stroke="#4646ff" stroke-width="0.8" />
<line x1="262.5" y1="19.4" x2="265.5" y2="19.4" stroke="#4646ff" stroke-width="0.8" />
<text x="260" y="109" font-size="5" fill="#3c3cff" text-anchor="middle" font-weight="normal" transform="rotate(-90 260 109)"  stroke="#3c3cff" stroke-width="0.18">0</text>
<text x="260" y="81" font-size="5" fill="#3c3cff" text-anchor="middle" font-weight="normal" transform="rotate(-90 260 81)"  stroke="#3c3cff" stroke-width="0.18">500</text>
<text x="260" y="53" font-size="5" fill="#3c3cff" text-anchor="middle" font-weight="normal" transform="rotate(-90 260 53)"  stroke="#3c3cff" stroke-width="0.18">1,000</text>
<text x="260" y="19.8" font-size="5" fill="#3c3cff" text-anchor="middle" font-weight="normal" transform="rotate(-90 260 19.8)"  stroke="#3c3cff" stroke-width="0.18">1,600</text>
<line x1="265.52" y1="109" x2="265.52" y2="112" stroke="#3c3cff" stroke-width="0.95" />
<line x1="269" y1="109" x2="269" y2="112" stroke="#3c3cff" stroke-width="0.95" />
<line x1="271.46" y1="109" x2="271.46" y2="112" stroke="#3c3cff" stroke-width="0.95" />
<line x1="273.37" y1="109" x2="273.37" y2="112" stroke="#3c3cff" stroke-width="0.95" />
<line x1="274.94" y1="109" x2="274.94" y2="112" stroke="#3c3cff" stroke-width="0.95" />
<line x1="276.26" y1="109" x2="276.26" y2="112" stroke="#3c3cff" stroke-width="0.95" />
<line x1="277.4" y1="109" x2="277.4" y2="112" stroke="#3c3cff" stroke-width="0.95" />
<line x1="278.41" y1="109" x2="278.41" y2="112" stroke="#3c3cff" stroke-width="0.95" />
<line x1="279.31" y1="109" x2="279.31" y2="112.5" stroke="#3c3cff" stroke-width="0.95" />
<line x1="285.25" y1="109" x2="285.25" y2="112" stroke="#3c3cff" stroke-width="0.95" />
<line x1="288.73" y1="109" x2="288.73" y2="112" stroke="#3c3cff" stroke-width="0.95" />
<line x1="291.19" y1="109" x2="291.19" y2="112" stroke="#3c3cff" stroke-width="0.95" />
<line x1="293.11" y1="109" x2="293.11" y2="112" stroke="#3c3cff" stroke-width="0.95" />
<line x1="294.67" y1="109" x2="294.67" y2="112" stroke="#3c3cff" stroke-width="0.95" />
<line x1="295.99" y1="109" x2="295.99" y2="112" stroke="#3c3cff" stroke-width="0.95" />
<line x1="297.13" y1="109" x2="297.13" y2="112" stroke="#3c3cff" stroke-width="0.95" />
<line x1="298.14" y1="109" x2="298.14" y2="112" stroke="#3c3cff" stroke-width="0.95" />
<line x1="299.05" y1="109" x2="299.05" y2="112.5" stroke="#3c3cff" stroke-width="0.95" />
<line x1="304.99" y1="109" x2="304.99" y2="112" stroke="#3c3cff" stroke-width="0.95" />
<line x1="308.46" y1="109" x2="308.46" y2="112" stroke="#3c3cff" stroke-width="0.95" />
<line x1="310.93" y1="109" x2="310.93" y2="112" stroke="#3c3cff" stroke-width="0.95" />
<line x1="312.84" y1="109" x2="312.84" y2="112" stroke="#3c3cff" stroke-width="0.95" />
<line x1="314.4" y1="109" x2="314.4" y2="112" stroke="#3c3cff" stroke-width="0.95" />
<line x1="315.72" y1="109" x2="315.72" y2="112" stroke="#3c3cff" stroke-width="0.95" />
<line x1="316.87" y1="109" x2="316.87" y2="112" stroke="#3c3cff" stroke-width="0.95" />
<line x1="317.88" y1="109" x2="317.88" y2="112" stroke="#3c3cff" stroke-width="0.95" />
<line x1="318.78" y1="109" x2="318.78" y2="112.5" stroke="#3c3cff" stroke-width="0.95" />
<line x1="324.72" y1="109" x2="324.72" y2="112" stroke="#3c3cff" stroke-width="0.95" />
<line x1="328.2" y1="109" x2="328.2" y2="112" stroke="#3c3cff" stroke-width="0.95" />
<line x1="330.66" y1="109" x2="330.66" y2="112" stroke="#3c3cff" stroke-width="0.95" />
<line x1="332.57" y1="109" x2="332.57" y2="112" stroke="#3c3cff" stroke-width="0.95" />
<line x1="334.14" y1="109" x2="334.14" y2="112" stroke="#3c3cff" stroke-width="0.95" />
<line x1="335.46" y1="109" x2="335.46" y2="112" stroke="#3c3cff" stroke-width="0.95" />
<line x1="336.6" y1="109" x2="336.6" y2="112" stroke="#3c3cff" stroke-width="0.95" />
<line x1="337.61" y1="109" x2="337.61" y2="112" stroke="#3c3cff" stroke-width="0.95" />
<line x1="338.51" y1="109" x2="338.51" y2="112.5" stroke="#3c3cff" stroke-width="0.95" />
<line x1="344.45" y1="109" x2="344.45" y2="112" stroke="#3c3cff" stroke-width="0.95" />
<line x1="347.93" y1="109" x2="347.93" y2="112" stroke="#3c3cff" stroke-width="0.95" />
<line x1="350.39" y1="109" x2="350.39" y2="112" stroke="#3c3cff" stroke-width="0.95" />
<line x1="352.31" y1="109" x2="352.31" y2="112" stroke="#3c3cff" stroke-width="0.95" />
<line x1="353.87" y1="109" x2="353.87" y2="112" stroke="#3c3cff" stroke-width="0.95" />
<line x1="354.3" y1="109" x2="354.3" y2="112.5" stroke="#3c3cff" stroke-width="0.95" />
<text x="265.9" y="117.2" font-size="4.3" fill="#3c3cff" stroke="#3c3cff" stroke-width="0.1" text-anchor="middle" transform="rotate(-15 265.9 117.2)">10<tspan font-size="3.65" dy="-1.72">1.3</tspan></text>
<text x="279.71" y="117.2" font-size="4.3" fill="#3c3cff" stroke="#3c3cff" stroke-width="0.1" text-anchor="middle" transform="rotate(-15 279.71 117.2)">10<tspan font-size="3.65" dy="-1.72">2</tspan></text>
<text x="299.45" y="117.2" font-size="4.3" fill="#3c3cff" stroke="#3c3cff" stroke-width="0.1" text-anchor="middle" transform="rotate(-15 299.45 117.2)">10<tspan font-size="3.65" dy="-1.72">3</tspan></text>
<text x="319.18" y="117.2" font-size="4.3" fill="#3c3cff" stroke="#3c3cff" stroke-width="0.1" text-anchor="middle" transform="rotate(-15 319.18 117.2)">10<tspan font-size="3.65" dy="-1.72">4</tspan></text>
<text x="338.91" y="117.2" font-size="4.3" fill="#3c3cff" stroke="#3c3cff" stroke-width="0.1" text-anchor="middle" transform="rotate(-15 338.91 117.2)">10<tspan font-size="3.65" dy="-1.72">5</tspan></text>
<text x="354.7" y="117.2" font-size="4.3" fill="#3c3cff" stroke="#3c3cff" stroke-width="0.1" text-anchor="middle" transform="rotate(-15 354.7 117.2)">10<tspan font-size="3.65" dy="-1.72">5.8</tspan></text>
<text x="265.3" y="17.7" font-size="6.55" fill="#222" text-anchor="start" font-weight="normal"  stroke="#222" stroke-width="0.15">Gate: (Single Cells in CD41+)</text>
<text x="252.9" y="74.2" font-size="5.6" fill="#222" text-anchor="middle" font-weight="normal" transform="rotate(-90 252.9 74.2)"  stroke="#222" stroke-width="0.15">Count</text>
<text x="310.5" y="124" font-size="5.4" fill="#333" text-anchor="middle" font-weight="normal"  stroke="#333" stroke-width="0.15">APC-A</text>
<polygon points="28.00,270.90 28.00,270.90 28.70,270.15 29.40,269.40 30.03,269.18 30.66,268.96 31.29,269.31 31.92,268.78 32.55,268.67 33.18,268.65 33.81,267.52 34.44,267.83 35.07,267.99 35.70,267.72 36.31,266.89 36.93,265.91 37.54,265.84 38.15,266.24 38.76,264.58 39.38,264.47 39.99,264.94 40.60,263.83 41.27,262.56 41.93,261.78 42.60,261.67 43.27,259.94 43.93,259.13 44.60,258.48 45.25,256.50 45.90,253.84 46.55,251.04 47.20,249.50 47.90,243.20 48.60,237.73 49.25,232.32 49.90,227.47 50.80,221.40 51.50,218.57 52.10,216.13 52.60,217.76 53.20,221.03 53.90,227.49 55.00,238.80 56.10,249.01 57.00,260.13 57.70,267.62 58.10,270.90 60.30,270.90 60.30,270.90" fill="#5b9a2b"/>
<line x1="60.6" y1="181" x2="60.6" y2="270.9" stroke="#d3344c" stroke-width="0.9" />
<rect x="20.2" y="181" width="90" height="89.9" fill="none" stroke="#4646ff" stroke-width="1"/>
<line x1="17" y1="181" x2="20.2" y2="181" stroke="#4646ff" stroke-width="0.9" />
<line x1="110.2" y1="270.9" x2="110.2" y2="274.1" stroke="#4646ff" stroke-width="0.9" />
<line x1="20.6" y1="185.5" x2="20.6" y2="270.9" stroke="#4f8a3a" stroke-width="1.1" />
<text x="20.8" y="187.1" font-size="6.3" fill="#d8344f" text-anchor="start" font-weight="normal"  stroke="#d8344f" stroke-width="0.22">V2-L</text>
<text x="20.8" y="193" font-size="6.3" fill="#d8344f" text-anchor="start" font-weight="normal"  stroke="#d8344f" stroke-width="0.22">100.0%</text>
<text x="88.9" y="187" font-size="6.3" fill="#d8344f" text-anchor="start" font-weight="normal"  stroke="#d8344f" stroke-width="0.22">CD62P</text>
<text x="88.9" y="192.9" font-size="6.3" fill="#d8344f" text-anchor="start" font-weight="normal"  stroke="#d8344f" stroke-width="0.22">0.0%</text>
<line x1="17.2" y1="270.9" x2="20.2" y2="270.9" stroke="#4646ff" stroke-width="0.8" />
<text x="13.9" y="270.9" font-size="5" fill="#3c3cff" text-anchor="middle" font-weight="normal" transform="rotate(-90 13.9 270.9)"  stroke="#3c3cff" stroke-width="0.18">0</text>
<line x1="17.2" y1="242.81" x2="20.2" y2="242.81" stroke="#4646ff" stroke-width="0.8" />
<text x="13.9" y="242.81" font-size="5" fill="#3c3cff" text-anchor="middle" font-weight="normal" transform="rotate(-90 13.9 242.81)"  stroke="#3c3cff" stroke-width="0.18">1,000</text>
<line x1="17.2" y1="214.71" x2="20.2" y2="214.71" stroke="#4646ff" stroke-width="0.8" />
<text x="13.9" y="214.71" font-size="5" fill="#3c3cff" text-anchor="middle" font-weight="normal" transform="rotate(-90 13.9 214.71)"  stroke="#3c3cff" stroke-width="0.18">2,000</text>
<line x1="17.2" y1="185.5" x2="20.2" y2="185.5" stroke="#4646ff" stroke-width="0.8" />
<text x="13.9" y="180.4" font-size="5" fill="#3c3cff" text-anchor="middle" font-weight="normal" transform="rotate(-90 13.9 180.4)"  stroke="#3c3cff" stroke-width="0.18">3,200</text>
<line x1="20.2" y1="270.9" x2="20.2" y2="274.4" stroke="#3c3cff" stroke-width="0.95" />
<line x1="23.96" y1="270.9" x2="23.96" y2="273.9" stroke="#3c3cff" stroke-width="0.95" />
<line x1="26.16" y1="270.9" x2="26.16" y2="273.9" stroke="#3c3cff" stroke-width="0.95" />
<line x1="27.73" y1="270.9" x2="27.73" y2="273.9" stroke="#3c3cff" stroke-width="0.95" />
<line x1="28.94" y1="270.9" x2="28.94" y2="273.9" stroke="#3c3cff" stroke-width="0.95" />
<line x1="29.93" y1="270.9" x2="29.93" y2="273.9" stroke="#3c3cff" stroke-width="0.95" />
<line x1="30.76" y1="270.9" x2="30.76" y2="273.9" stroke="#3c3cff" stroke-width="0.95" />
<line x1="31.49" y1="270.9" x2="31.49" y2="273.9" stroke="#3c3cff" stroke-width="0.95" />
<line x1="32.13" y1="270.9" x2="32.13" y2="273.9" stroke="#3c3cff" stroke-width="0.95" />
<line x1="32.7" y1="270.9" x2="32.7" y2="274.4" stroke="#3c3cff" stroke-width="0.95" />
<line x1="36.46" y1="270.9" x2="36.46" y2="273.9" stroke="#3c3cff" stroke-width="0.95" />
<line x1="38.66" y1="270.9" x2="38.66" y2="273.9" stroke="#3c3cff" stroke-width="0.95" />
<line x1="40.23" y1="270.9" x2="40.23" y2="273.9" stroke="#3c3cff" stroke-width="0.95" />
<line x1="41.44" y1="270.9" x2="41.44" y2="273.9" stroke="#3c3cff" stroke-width="0.95" />
<line x1="42.43" y1="270.9" x2="42.43" y2="273.9" stroke="#3c3cff" stroke-width="0.95" />
<line x1="43.26" y1="270.9" x2="43.26" y2="273.9" stroke="#3c3cff" stroke-width="0.95" />
<line x1="43.99" y1="270.9" x2="43.99" y2="273.9" stroke="#3c3cff" stroke-width="0.95" />
<line x1="44.63" y1="270.9" x2="44.63" y2="273.9" stroke="#3c3cff" stroke-width="0.95" />
<line x1="45.2" y1="270.9" x2="45.2" y2="274.4" stroke="#3c3cff" stroke-width="0.95" />
<line x1="48.96" y1="270.9" x2="48.96" y2="273.9" stroke="#3c3cff" stroke-width="0.95" />
<line x1="51.16" y1="270.9" x2="51.16" y2="273.9" stroke="#3c3cff" stroke-width="0.95" />
<line x1="52.73" y1="270.9" x2="52.73" y2="273.9" stroke="#3c3cff" stroke-width="0.95" />
<line x1="53.94" y1="270.9" x2="53.94" y2="273.9" stroke="#3c3cff" stroke-width="0.95" />
<line x1="54.93" y1="270.9" x2="54.93" y2="273.9" stroke="#3c3cff" stroke-width="0.95" />
<line x1="55.76" y1="270.9" x2="55.76" y2="273.9" stroke="#3c3cff" stroke-width="0.95" />
<line x1="56.49" y1="270.9" x2="56.49" y2="273.9" stroke="#3c3cff" stroke-width="0.95" />
<line x1="57.13" y1="270.9" x2="57.13" y2="273.9" stroke="#3c3cff" stroke-width="0.95" />
<line x1="57.7" y1="270.9" x2="57.7" y2="274.4" stroke="#3c3cff" stroke-width="0.95" />
<line x1="61.46" y1="270.9" x2="61.46" y2="273.9" stroke="#3c3cff" stroke-width="0.95" />
<line x1="63.66" y1="270.9" x2="63.66" y2="273.9" stroke="#3c3cff" stroke-width="0.95" />
<line x1="65.23" y1="270.9" x2="65.23" y2="273.9" stroke="#3c3cff" stroke-width="0.95" />
<line x1="66.44" y1="270.9" x2="66.44" y2="273.9" stroke="#3c3cff" stroke-width="0.95" />
<line x1="67.43" y1="270.9" x2="67.43" y2="273.9" stroke="#3c3cff" stroke-width="0.95" />
<line x1="68.26" y1="270.9" x2="68.26" y2="273.9" stroke="#3c3cff" stroke-width="0.95" />
<line x1="68.99" y1="270.9" x2="68.99" y2="273.9" stroke="#3c3cff" stroke-width="0.95" />
<line x1="69.63" y1="270.9" x2="69.63" y2="273.9" stroke="#3c3cff" stroke-width="0.95" />
<line x1="70.2" y1="270.9" x2="70.2" y2="274.4" stroke="#3c3cff" stroke-width="0.95" />
<line x1="73.96" y1="270.9" x2="73.96" y2="273.9" stroke="#3c3cff" stroke-width="0.95" />
<line x1="76.16" y1="270.9" x2="76.16" y2="273.9" stroke="#3c3cff" stroke-width="0.95" />
<line x1="77.73" y1="270.9" x2="77.73" y2="273.9" stroke="#3c3cff" stroke-width="0.95" />
<line x1="78.94" y1="270.9" x2="78.94" y2="273.9" stroke="#3c3cff" stroke-width="0.95" />
<line x1="79.93" y1="270.9" x2="79.93" y2="273.9" stroke="#3c3cff" stroke-width="0.95" />
<line x1="80.76" y1="270.9" x2="80.76" y2="273.9" stroke="#3c3cff" stroke-width="0.95" />
<line x1="81.49" y1="270.9" x2="81.49" y2="273.9" stroke="#3c3cff" stroke-width="0.95" />
<line x1="82.13" y1="270.9" x2="82.13" y2="273.9" stroke="#3c3cff" stroke-width="0.95" />
<line x1="82.7" y1="270.9" x2="82.7" y2="274.4" stroke="#3c3cff" stroke-width="0.95" />
<line x1="86.46" y1="270.9" x2="86.46" y2="273.9" stroke="#3c3cff" stroke-width="0.95" />
<line x1="88.66" y1="270.9" x2="88.66" y2="273.9" stroke="#3c3cff" stroke-width="0.95" />
<line x1="90.23" y1="270.9" x2="90.23" y2="273.9" stroke="#3c3cff" stroke-width="0.95" />
<line x1="91.44" y1="270.9" x2="91.44" y2="273.9" stroke="#3c3cff" stroke-width="0.95" />
<line x1="92.43" y1="270.9" x2="92.43" y2="273.9" stroke="#3c3cff" stroke-width="0.95" />
<line x1="93.26" y1="270.9" x2="93.26" y2="273.9" stroke="#3c3cff" stroke-width="0.95" />
<line x1="93.99" y1="270.9" x2="93.99" y2="273.9" stroke="#3c3cff" stroke-width="0.95" />
<line x1="94.63" y1="270.9" x2="94.63" y2="273.9" stroke="#3c3cff" stroke-width="0.95" />
<line x1="95.2" y1="270.9" x2="95.2" y2="274.4" stroke="#3c3cff" stroke-width="0.95" />
<line x1="98.96" y1="270.9" x2="98.96" y2="273.9" stroke="#3c3cff" stroke-width="0.95" />
<line x1="101.16" y1="270.9" x2="101.16" y2="273.9" stroke="#3c3cff" stroke-width="0.95" />
<line x1="102.73" y1="270.9" x2="102.73" y2="273.9" stroke="#3c3cff" stroke-width="0.95" />
<line x1="103.94" y1="270.9" x2="103.94" y2="273.9" stroke="#3c3cff" stroke-width="0.95" />
<line x1="104.93" y1="270.9" x2="104.93" y2="273.9" stroke="#3c3cff" stroke-width="0.95" />
<line x1="105.76" y1="270.9" x2="105.76" y2="273.9" stroke="#3c3cff" stroke-width="0.95" />
<line x1="106.49" y1="270.9" x2="106.49" y2="273.9" stroke="#3c3cff" stroke-width="0.95" />
<line x1="107.13" y1="270.9" x2="107.13" y2="273.9" stroke="#3c3cff" stroke-width="0.95" />
<line x1="107.7" y1="270.9" x2="107.7" y2="274.4" stroke="#3c3cff" stroke-width="0.95" />
<line x1="110.2" y1="270.9" x2="110.2" y2="274.4" stroke="#3c3cff" stroke-width="0.95" />
<text x="20.6" y="279.1" font-size="4.3" fill="#3c3cff" stroke="#3c3cff" stroke-width="0.1" text-anchor="middle" transform="rotate(-15 20.6 279.1)">10<tspan font-size="3.65" dy="-1.72">0</tspan></text>
<text x="33.1" y="279.1" font-size="4.3" fill="#3c3cff" stroke="#3c3cff" stroke-width="0.1" text-anchor="middle" transform="rotate(-15 33.1 279.1)">10<tspan font-size="3.65" dy="-1.72">1</tspan></text>
<text x="45.6" y="279.1" font-size="4.3" fill="#3c3cff" stroke="#3c3cff" stroke-width="0.1" text-anchor="middle" transform="rotate(-15 45.6 279.1)">10<tspan font-size="3.65" dy="-1.72">2</tspan></text>
<text x="58.1" y="279.1" font-size="4.3" fill="#3c3cff" stroke="#3c3cff" stroke-width="0.1" text-anchor="middle" transform="rotate(-15 58.1 279.1)">10<tspan font-size="3.65" dy="-1.72">3</tspan></text>
<text x="70.6" y="279.1" font-size="4.3" fill="#3c3cff" stroke="#3c3cff" stroke-width="0.1" text-anchor="middle" transform="rotate(-15 70.6 279.1)">10<tspan font-size="3.65" dy="-1.72">4</tspan></text>
<text x="83.1" y="279.1" font-size="4.3" fill="#3c3cff" stroke="#3c3cff" stroke-width="0.1" text-anchor="middle" transform="rotate(-15 83.1 279.1)">10<tspan font-size="3.65" dy="-1.72">5</tspan></text>
<text x="95.6" y="279.1" font-size="4.3" fill="#3c3cff" stroke="#3c3cff" stroke-width="0.1" text-anchor="middle" transform="rotate(-15 95.6 279.1)">10<tspan font-size="3.65" dy="-1.72">6</tspan></text>
<text x="110.6" y="279.1" font-size="4.3" fill="#3c3cff" stroke="#3c3cff" stroke-width="0.1" text-anchor="middle" transform="rotate(-15 110.6 279.1)">10<tspan font-size="3.65" dy="-1.72">7.2</tspan></text>
<text x="65.2" y="285.8" font-size="5.4" fill="#333" text-anchor="middle" font-weight="normal"  stroke="#333" stroke-width="0.15">APC-A</text>
<text x="64.8" y="174.6" font-size="11" fill="#1a1a1a" text-anchor="middle" font-weight="normal"  stroke="#1a1a1a" stroke-width="0.25">Isotype</text>
<polygon points="152.00,270.90 152.00,270.90 152.72,270.60 153.44,270.30 154.16,270.00 154.88,269.70 155.60,269.40 156.20,269.03 156.80,268.78 157.40,268.55 158.00,267.92 158.60,267.55 159.20,266.98 159.80,267.30 160.40,266.13 161.00,265.54 161.66,264.85 162.31,264.61 162.97,264.26 163.63,263.01 164.29,261.53 164.94,261.04 165.60,260.04 166.27,258.47 166.93,256.63 167.60,255.57 168.27,253.11 168.93,251.71 169.60,249.83 170.27,245.17 170.93,241.49 171.60,238.92 172.25,232.06 172.90,227.12 173.65,222.07 174.40,215.74 175.30,212.56 176.20,210.44 177.10,212.68 178.20,215.81 178.90,221.33 179.60,226.99 180.35,232.09 181.10,237.63 181.60,241.06 181.60,270.90" fill="#5b9a2b"/>
<polygon points="181.60,270.90 181.60,241.06 181.80,242.43 182.47,244.56 183.13,247.53 183.80,249.17 184.50,251.02 185.20,253.60 185.90,255.60 186.60,257.69 187.30,260.74 187.93,261.15 188.57,262.11 189.20,262.92 189.83,264.42 190.47,265.59 191.10,266.71 191.74,267.16 192.39,266.67 193.03,267.68 193.67,267.69 194.31,267.93 194.96,268.93 195.60,269.40 196.28,269.70 196.96,270.00 197.64,270.30 198.32,270.60 199.00,270.90 199.00,270.90" fill="#e1000e"/>
<line x1="181.9" y1="181" x2="181.9" y2="270.9" stroke="#d3344c" stroke-width="0.9" />
<rect x="142.4" y="181" width="90" height="89.9" fill="none" stroke="#4646ff" stroke-width="1"/>
<line x1="139.2" y1="181" x2="142.4" y2="181" stroke="#4646ff" stroke-width="0.9" />
<line x1="232.4" y1="270.9" x2="232.4" y2="274.1" stroke="#4646ff" stroke-width="0.9" />
<line x1="142.8" y1="185.5" x2="142.8" y2="270.9" stroke="#23406a" stroke-width="1.1" />
<text x="143" y="187.1" font-size="6.3" fill="#d8344f" text-anchor="start" font-weight="normal"  stroke="#d8344f" stroke-width="0.22">V2-L</text>
<text x="143" y="193" font-size="6.3" fill="#d8344f" text-anchor="start" font-weight="normal"  stroke="#d8344f" stroke-width="0.22">83.2%</text>
<text x="211.1" y="187" font-size="6.3" fill="#d8344f" text-anchor="start" font-weight="normal"  stroke="#d8344f" stroke-width="0.22">CD62P</text>
<text x="211.1" y="192.9" font-size="6.3" fill="#d8344f" text-anchor="start" font-weight="normal"  stroke="#d8344f" stroke-width="0.22">16.8%</text>
<line x1="139.4" y1="270.9" x2="142.4" y2="270.9" stroke="#4646ff" stroke-width="0.8" />
<text x="136.1" y="270.9" font-size="5" fill="#3c3cff" text-anchor="middle" font-weight="normal" transform="rotate(-90 136.1 270.9)"  stroke="#3c3cff" stroke-width="0.18">0</text>
<line x1="139.4" y1="242.81" x2="142.4" y2="242.81" stroke="#4646ff" stroke-width="0.8" />
<text x="136.1" y="242.81" font-size="5" fill="#3c3cff" text-anchor="middle" font-weight="normal" transform="rotate(-90 136.1 242.81)"  stroke="#3c3cff" stroke-width="0.18">1,000</text>
<line x1="139.4" y1="214.71" x2="142.4" y2="214.71" stroke="#4646ff" stroke-width="0.8" />
<text x="136.1" y="214.71" font-size="5" fill="#3c3cff" text-anchor="middle" font-weight="normal" transform="rotate(-90 136.1 214.71)"  stroke="#3c3cff" stroke-width="0.18">2,000</text>
<line x1="139.4" y1="185.5" x2="142.4" y2="185.5" stroke="#4646ff" stroke-width="0.8" />
<text x="136.1" y="180.4" font-size="5" fill="#3c3cff" text-anchor="middle" font-weight="normal" transform="rotate(-90 136.1 180.4)"  stroke="#3c3cff" stroke-width="0.18">3,200</text>
<line x1="142.4" y1="270.9" x2="142.4" y2="274.4" stroke="#3c3cff" stroke-width="0.95" />
<line x1="146.16" y1="270.9" x2="146.16" y2="273.9" stroke="#3c3cff" stroke-width="0.95" />
<line x1="148.36" y1="270.9" x2="148.36" y2="273.9" stroke="#3c3cff" stroke-width="0.95" />
<line x1="149.93" y1="270.9" x2="149.93" y2="273.9" stroke="#3c3cff" stroke-width="0.95" />
<line x1="151.14" y1="270.9" x2="151.14" y2="273.9" stroke="#3c3cff" stroke-width="0.95" />
<line x1="152.13" y1="270.9" x2="152.13" y2="273.9" stroke="#3c3cff" stroke-width="0.95" />
<line x1="152.96" y1="270.9" x2="152.96" y2="273.9" stroke="#3c3cff" stroke-width="0.95" />
<line x1="153.69" y1="270.9" x2="153.69" y2="273.9" stroke="#3c3cff" stroke-width="0.95" />
<line x1="154.33" y1="270.9" x2="154.33" y2="273.9" stroke="#3c3cff" stroke-width="0.95" />
<line x1="154.9" y1="270.9" x2="154.9" y2="274.4" stroke="#3c3cff" stroke-width="0.95" />
<line x1="158.66" y1="270.9" x2="158.66" y2="273.9" stroke="#3c3cff" stroke-width="0.95" />
<line x1="160.86" y1="270.9" x2="160.86" y2="273.9" stroke="#3c3cff" stroke-width="0.95" />
<line x1="162.43" y1="270.9" x2="162.43" y2="273.9" stroke="#3c3cff" stroke-width="0.95" />
<line x1="163.64" y1="270.9" x2="163.64" y2="273.9" stroke="#3c3cff" stroke-width="0.95" />
<line x1="164.63" y1="270.9" x2="164.63" y2="273.9" stroke="#3c3cff" stroke-width="0.95" />
<line x1="165.46" y1="270.9" x2="165.46" y2="273.9" stroke="#3c3cff" stroke-width="0.95" />
<line x1="166.19" y1="270.9" x2="166.19" y2="273.9" stroke="#3c3cff" stroke-width="0.95" />
<line x1="166.83" y1="270.9" x2="166.83" y2="273.9" stroke="#3c3cff" stroke-width="0.95" />
<line x1="167.4" y1="270.9" x2="167.4" y2="274.4" stroke="#3c3cff" stroke-width="0.95" />
<line x1="171.16" y1="270.9" x2="171.16" y2="273.9" stroke="#3c3cff" stroke-width="0.95" />
<line x1="173.36" y1="270.9" x2="173.36" y2="273.9" stroke="#3c3cff" stroke-width="0.95" />
<line x1="174.93" y1="270.9" x2="174.93" y2="273.9" stroke="#3c3cff" stroke-width="0.95" />
<line x1="176.14" y1="270.9" x2="176.14" y2="273.9" stroke="#3c3cff" stroke-width="0.95" />
<line x1="177.13" y1="270.9" x2="177.13" y2="273.9" stroke="#3c3cff" stroke-width="0.95" />
<line x1="177.96" y1="270.9" x2="177.96" y2="273.9" stroke="#3c3cff" stroke-width="0.95" />
<line x1="178.69" y1="270.9" x2="178.69" y2="273.9" stroke="#3c3cff" stroke-width="0.95" />
<line x1="179.33" y1="270.9" x2="179.33" y2="273.9" stroke="#3c3cff" stroke-width="0.95" />
<line x1="179.9" y1="270.9" x2="179.9" y2="274.4" stroke="#3c3cff" stroke-width="0.95" />
<line x1="183.66" y1="270.9" x2="183.66" y2="273.9" stroke="#3c3cff" stroke-width="0.95" />
<line x1="185.86" y1="270.9" x2="185.86" y2="273.9" stroke="#3c3cff" stroke-width="0.95" />
<line x1="187.43" y1="270.9" x2="187.43" y2="273.9" stroke="#3c3cff" stroke-width="0.95" />
<line x1="188.64" y1="270.9" x2="188.64" y2="273.9" stroke="#3c3cff" stroke-width="0.95" />
<line x1="189.63" y1="270.9" x2="189.63" y2="273.9" stroke="#3c3cff" stroke-width="0.95" />
<line x1="190.46" y1="270.9" x2="190.46" y2="273.9" stroke="#3c3cff" stroke-width="0.95" />
<line x1="191.19" y1="270.9" x2="191.19" y2="273.9" stroke="#3c3cff" stroke-width="0.95" />
<line x1="191.83" y1="270.9" x2="191.83" y2="273.9" stroke="#3c3cff" stroke-width="0.95" />
<line x1="192.4" y1="270.9" x2="192.4" y2="274.4" stroke="#3c3cff" stroke-width="0.95" />
<line x1="196.16" y1="270.9" x2="196.16" y2="273.9" stroke="#3c3cff" stroke-width="0.95" />
<line x1="198.36" y1="270.9" x2="198.36" y2="273.9" stroke="#3c3cff" stroke-width="0.95" />
<line x1="199.93" y1="270.9" x2="199.93" y2="273.9" stroke="#3c3cff" stroke-width="0.95" />
<line x1="201.14" y1="270.9" x2="201.14" y2="273.9" stroke="#3c3cff" stroke-width="0.95" />
<line x1="202.13" y1="270.9" x2="202.13" y2="273.9" stroke="#3c3cff" stroke-width="0.95" />
<line x1="202.96" y1="270.9" x2="202.96" y2="273.9" stroke="#3c3cff" stroke-width="0.95" />
<line x1="203.69" y1="270.9" x2="203.69" y2="273.9" stroke="#3c3cff" stroke-width="0.95" />
<line x1="204.33" y1="270.9" x2="204.33" y2="273.9" stroke="#3c3cff" stroke-width="0.95" />
<line x1="204.9" y1="270.9" x2="204.9" y2="274.4" stroke="#3c3cff" stroke-width="0.95" />
<line x1="208.66" y1="270.9" x2="208.66" y2="273.9" stroke="#3c3cff" stroke-width="0.95" />
<line x1="210.86" y1="270.9" x2="210.86" y2="273.9" stroke="#3c3cff" stroke-width="0.95" />
<line x1="212.43" y1="270.9" x2="212.43" y2="273.9" stroke="#3c3cff" stroke-width="0.95" />
<line x1="213.64" y1="270.9" x2="213.64" y2="273.9" stroke="#3c3cff" stroke-width="0.95" />
<line x1="214.63" y1="270.9" x2="214.63" y2="273.9" stroke="#3c3cff" stroke-width="0.95" />
<line x1="215.46" y1="270.9" x2="215.46" y2="273.9" stroke="#3c3cff" stroke-width="0.95" />
<line x1="216.19" y1="270.9" x2="216.19" y2="273.9" stroke="#3c3cff" stroke-width="0.95" />
<line x1="216.83" y1="270.9" x2="216.83" y2="273.9" stroke="#3c3cff" stroke-width="0.95" />
<line x1="217.4" y1="270.9" x2="217.4" y2="274.4" stroke="#3c3cff" stroke-width="0.95" />
<line x1="221.16" y1="270.9" x2="221.16" y2="273.9" stroke="#3c3cff" stroke-width="0.95" />
<line x1="223.36" y1="270.9" x2="223.36" y2="273.9" stroke="#3c3cff" stroke-width="0.95" />
<line x1="224.93" y1="270.9" x2="224.93" y2="273.9" stroke="#3c3cff" stroke-width="0.95" />
<line x1="226.14" y1="270.9" x2="226.14" y2="273.9" stroke="#3c3cff" stroke-width="0.95" />
<line x1="227.13" y1="270.9" x2="227.13" y2="273.9" stroke="#3c3cff" stroke-width="0.95" />
<line x1="227.96" y1="270.9" x2="227.96" y2="273.9" stroke="#3c3cff" stroke-width="0.95" />
<line x1="228.69" y1="270.9" x2="228.69" y2="273.9" stroke="#3c3cff" stroke-width="0.95" />
<line x1="229.33" y1="270.9" x2="229.33" y2="273.9" stroke="#3c3cff" stroke-width="0.95" />
<line x1="229.9" y1="270.9" x2="229.9" y2="274.4" stroke="#3c3cff" stroke-width="0.95" />
<line x1="232.4" y1="270.9" x2="232.4" y2="274.4" stroke="#3c3cff" stroke-width="0.95" />
<text x="142.8" y="279.1" font-size="4.3" fill="#3c3cff" stroke="#3c3cff" stroke-width="0.1" text-anchor="middle" transform="rotate(-15 142.8 279.1)">10<tspan font-size="3.65" dy="-1.72">0</tspan></text>
<text x="155.3" y="279.1" font-size="4.3" fill="#3c3cff" stroke="#3c3cff" stroke-width="0.1" text-anchor="middle" transform="rotate(-15 155.3 279.1)">10<tspan font-size="3.65" dy="-1.72">1</tspan></text>
<text x="167.8" y="279.1" font-size="4.3" fill="#3c3cff" stroke="#3c3cff" stroke-width="0.1" text-anchor="middle" transform="rotate(-15 167.8 279.1)">10<tspan font-size="3.65" dy="-1.72">2</tspan></text>
<text x="180.3" y="279.1" font-size="4.3" fill="#3c3cff" stroke="#3c3cff" stroke-width="0.1" text-anchor="middle" transform="rotate(-15 180.3 279.1)">10<tspan font-size="3.65" dy="-1.72">3</tspan></text>
<text x="192.8" y="279.1" font-size="4.3" fill="#3c3cff" stroke="#3c3cff" stroke-width="0.1" text-anchor="middle" transform="rotate(-15 192.8 279.1)">10<tspan font-size="3.65" dy="-1.72">4</tspan></text>
<text x="205.3" y="279.1" font-size="4.3" fill="#3c3cff" stroke="#3c3cff" stroke-width="0.1" text-anchor="middle" transform="rotate(-15 205.3 279.1)">10<tspan font-size="3.65" dy="-1.72">5</tspan></text>
<text x="217.8" y="279.1" font-size="4.3" fill="#3c3cff" stroke="#3c3cff" stroke-width="0.1" text-anchor="middle" transform="rotate(-15 217.8 279.1)">10<tspan font-size="3.65" dy="-1.72">6</tspan></text>
<text x="232.8" y="279.1" font-size="4.3" fill="#3c3cff" stroke="#3c3cff" stroke-width="0.1" text-anchor="middle" transform="rotate(-15 232.8 279.1)">10<tspan font-size="3.65" dy="-1.72">7.2</tspan></text>
<text x="187.4" y="285.8" font-size="5.4" fill="#333" text-anchor="middle" font-weight="normal"  stroke="#333" stroke-width="0.15">APC-A</text>
<text x="129.8" y="236" font-size="5.5" fill="#111" text-anchor="middle" font-weight="normal" transform="rotate(-90 129.8 236)" stroke="#111" stroke-width="0.15">Count</text>
<text x="187.2" y="174.6" font-size="11" fill="#1a1a1a" text-anchor="middle" font-weight="normal"  stroke="#1a1a1a" stroke-width="0.25">Young</text>
<polygon points="271.00,270.90 271.00,270.90 271.77,270.40 272.53,269.90 273.30,269.40 273.94,269.09 274.59,268.37 275.23,269.07 275.87,268.24 276.51,267.80 277.16,267.78 277.80,267.35 278.43,266.34 279.07,265.98 279.70,265.22 280.33,265.65 280.97,263.85 281.60,264.59 282.27,262.59 282.93,262.42 283.60,261.47 284.27,259.86 284.93,259.28 285.60,258.44 286.30,256.28 287.00,253.67 287.70,252.08 288.40,249.85 289.17,245.53 289.93,242.26 290.70,238.61 291.45,233.08 292.20,227.02 293.00,223.80 294.00,221.91 295.00,222.63 296.20,224.64 296.87,226.65 297.53,228.29 298.20,230.01 298.93,230.95 299.67,233.08 300.40,235.31 300.60,235.53 300.60,270.90" fill="#5b9a2b"/>
<polygon points="300.60,270.90 300.60,235.53 301.00,235.97 301.60,238.26 302.33,242.62 303.07,245.85 303.80,250.07 304.52,252.22 305.25,254.47 305.98,255.64 306.70,258.89 307.36,259.74 308.02,260.54 308.68,261.38 309.34,262.57 310.00,264.10 310.66,264.64 311.32,265.41 311.98,265.47 312.64,266.72 313.30,267.78 313.93,267.09 314.57,267.71 315.20,268.52 315.83,268.36 316.47,269.03 317.10,269.40 317.83,269.77 318.55,270.15 319.27,270.52 320.00,270.90 320.00,270.90" fill="#e1000e"/>
<line x1="300.9" y1="181" x2="300.9" y2="270.9" stroke="#d3344c" stroke-width="0.9" />
<rect x="260.3" y="181" width="90" height="89.9" fill="none" stroke="#4646ff" stroke-width="1"/>
<line x1="257.1" y1="181" x2="260.3" y2="181" stroke="#4646ff" stroke-width="0.9" />
<line x1="350.3" y1="270.9" x2="350.3" y2="274.1" stroke="#4646ff" stroke-width="0.9" />
<line x1="260.7" y1="185.5" x2="260.7" y2="270.9" stroke="#4f8a3a" stroke-width="1.1" />
<text x="260.9" y="187.1" font-size="6.3" fill="#d8344f" text-anchor="start" font-weight="normal"  stroke="#d8344f" stroke-width="0.22">V2-L</text>
<text x="260.9" y="193" font-size="6.3" fill="#d8344f" text-anchor="start" font-weight="normal"  stroke="#d8344f" stroke-width="0.22">76.5%</text>
<text x="323.9" y="189" font-size="6.3" fill="#d8344f" text-anchor="start" font-weight="normal"  stroke="#d8344f" stroke-width="0.22">CD62P</text>
<text x="323.9" y="194.9" font-size="6.3" fill="#d8344f" text-anchor="start" font-weight="normal"  stroke="#d8344f" stroke-width="0.22">23.5%</text>
<line x1="257.3" y1="270.9" x2="260.3" y2="270.9" stroke="#4646ff" stroke-width="0.8" />
<text x="254" y="270.9" font-size="5" fill="#3c3cff" text-anchor="middle" font-weight="normal" transform="rotate(-90 254 270.9)"  stroke="#3c3cff" stroke-width="0.18">0</text>
<line x1="257.3" y1="242.81" x2="260.3" y2="242.81" stroke="#4646ff" stroke-width="0.8" />
<text x="254" y="242.81" font-size="5" fill="#3c3cff" text-anchor="middle" font-weight="normal" transform="rotate(-90 254 242.81)"  stroke="#3c3cff" stroke-width="0.18">1,000</text>
<line x1="257.3" y1="214.71" x2="260.3" y2="214.71" stroke="#4646ff" stroke-width="0.8" />
<text x="254" y="214.71" font-size="5" fill="#3c3cff" text-anchor="middle" font-weight="normal" transform="rotate(-90 254 214.71)"  stroke="#3c3cff" stroke-width="0.18">2,000</text>
<line x1="257.3" y1="185.5" x2="260.3" y2="185.5" stroke="#4646ff" stroke-width="0.8" />
<text x="254" y="180.4" font-size="5" fill="#3c3cff" text-anchor="middle" font-weight="normal" transform="rotate(-90 254 180.4)"  stroke="#3c3cff" stroke-width="0.18">3,200</text>
<line x1="260.3" y1="270.9" x2="260.3" y2="274.4" stroke="#3c3cff" stroke-width="0.95" />
<line x1="264.06" y1="270.9" x2="264.06" y2="273.9" stroke="#3c3cff" stroke-width="0.95" />
<line x1="266.26" y1="270.9" x2="266.26" y2="273.9" stroke="#3c3cff" stroke-width="0.95" />
<line x1="267.83" y1="270.9" x2="267.83" y2="273.9" stroke="#3c3cff" stroke-width="0.95" />
<line x1="269.04" y1="270.9" x2="269.04" y2="273.9" stroke="#3c3cff" stroke-width="0.95" />
<line x1="270.03" y1="270.9" x2="270.03" y2="273.9" stroke="#3c3cff" stroke-width="0.95" />
<line x1="270.86" y1="270.9" x2="270.86" y2="273.9" stroke="#3c3cff" stroke-width="0.95" />
<line x1="271.59" y1="270.9" x2="271.59" y2="273.9" stroke="#3c3cff" stroke-width="0.95" />
<line x1="272.23" y1="270.9" x2="272.23" y2="273.9" stroke="#3c3cff" stroke-width="0.95" />
<line x1="272.8" y1="270.9" x2="272.8" y2="274.4" stroke="#3c3cff" stroke-width="0.95" />
<line x1="276.56" y1="270.9" x2="276.56" y2="273.9" stroke="#3c3cff" stroke-width="0.95" />
<line x1="278.76" y1="270.9" x2="278.76" y2="273.9" stroke="#3c3cff" stroke-width="0.95" />
<line x1="280.33" y1="270.9" x2="280.33" y2="273.9" stroke="#3c3cff" stroke-width="0.95" />
<line x1="281.54" y1="270.9" x2="281.54" y2="273.9" stroke="#3c3cff" stroke-width="0.95" />
<line x1="282.53" y1="270.9" x2="282.53" y2="273.9" stroke="#3c3cff" stroke-width="0.95" />
<line x1="283.36" y1="270.9" x2="283.36" y2="273.9" stroke="#3c3cff" stroke-width="0.95" />
<line x1="284.09" y1="270.9" x2="284.09" y2="273.9" stroke="#3c3cff" stroke-width="0.95" />
<line x1="284.73" y1="270.9" x2="284.73" y2="273.9" stroke="#3c3cff" stroke-width="0.95" />
<line x1="285.3" y1="270.9" x2="285.3" y2="274.4" stroke="#3c3cff" stroke-width="0.95" />
<line x1="289.06" y1="270.9" x2="289.06" y2="273.9" stroke="#3c3cff" stroke-width="0.95" />
<line x1="291.26" y1="270.9" x2="291.26" y2="273.9" stroke="#3c3cff" stroke-width="0.95" />
<line x1="292.83" y1="270.9" x2="292.83" y2="273.9" stroke="#3c3cff" stroke-width="0.95" />
<line x1="294.04" y1="270.9" x2="294.04" y2="273.9" stroke="#3c3cff" stroke-width="0.95" />
<line x1="295.03" y1="270.9" x2="295.03" y2="273.9" stroke="#3c3cff" stroke-width="0.95" />
<line x1="295.86" y1="270.9" x2="295.86" y2="273.9" stroke="#3c3cff" stroke-width="0.95" />
<line x1="296.59" y1="270.9" x2="296.59" y2="273.9" stroke="#3c3cff" stroke-width="0.95" />
<line x1="297.23" y1="270.9" x2="297.23" y2="273.9" stroke="#3c3cff" stroke-width="0.95" />
<line x1="297.8" y1="270.9" x2="297.8" y2="274.4" stroke="#3c3cff" stroke-width="0.95" />
<line x1="301.56" y1="270.9" x2="301.56" y2="273.9" stroke="#3c3cff" stroke-width="0.95" />
<line x1="303.76" y1="270.9" x2="303.76" y2="273.9" stroke="#3c3cff" stroke-width="0.95" />
<line x1="305.33" y1="270.9" x2="305.33" y2="273.9" stroke="#3c3cff" stroke-width="0.95" />
<line x1="306.54" y1="270.9" x2="306.54" y2="273.9" stroke="#3c3cff" stroke-width="0.95" />
<line x1="307.53" y1="270.9" x2="307.53" y2="273.9" stroke="#3c3cff" stroke-width="0.95" />
<line x1="308.36" y1="270.9" x2="308.36" y2="273.9" stroke="#3c3cff" stroke-width="0.95" />
<line x1="309.09" y1="270.9" x2="309.09" y2="273.9" stroke="#3c3cff" stroke-width="0.95" />
<line x1="309.73" y1="270.9" x2="309.73" y2="273.9" stroke="#3c3cff" stroke-width="0.95" />
<line x1="310.3" y1="270.9" x2="310.3" y2="274.4" stroke="#3c3cff" stroke-width="0.95" />
<line x1="314.06" y1="270.9" x2="314.06" y2="273.9" stroke="#3c3cff" stroke-width="0.95" />
<line x1="316.26" y1="270.9" x2="316.26" y2="273.9" stroke="#3c3cff" stroke-width="0.95" />
<line x1="317.83" y1="270.9" x2="317.83" y2="273.9" stroke="#3c3cff" stroke-width="0.95" />
<line x1="319.04" y1="270.9" x2="319.04" y2="273.9" stroke="#3c3cff" stroke-width="0.95" />
<line x1="320.03" y1="270.9" x2="320.03" y2="273.9" stroke="#3c3cff" stroke-width="0.95" />
<line x1="320.86" y1="270.9" x2="320.86" y2="273.9" stroke="#3c3cff" stroke-width="0.95" />
<line x1="321.59" y1="270.9" x2="321.59" y2="273.9" stroke="#3c3cff" stroke-width="0.95" />
<line x1="322.23" y1="270.9" x2="322.23" y2="273.9" stroke="#3c3cff" stroke-width="0.95" />
<line x1="322.8" y1="270.9" x2="322.8" y2="274.4" stroke="#3c3cff" stroke-width="0.95" />
<line x1="326.56" y1="270.9" x2="326.56" y2="273.9" stroke="#3c3cff" stroke-width="0.95" />
<line x1="328.76" y1="270.9" x2="328.76" y2="273.9" stroke="#3c3cff" stroke-width="0.95" />
<line x1="330.33" y1="270.9" x2="330.33" y2="273.9" stroke="#3c3cff" stroke-width="0.95" />
<line x1="331.54" y1="270.9" x2="331.54" y2="273.9" stroke="#3c3cff" stroke-width="0.95" />
<line x1="332.53" y1="270.9" x2="332.53" y2="273.9" stroke="#3c3cff" stroke-width="0.95" />
<line x1="333.36" y1="270.9" x2="333.36" y2="273.9" stroke="#3c3cff" stroke-width="0.95" />
<line x1="334.09" y1="270.9" x2="334.09" y2="273.9" stroke="#3c3cff" stroke-width="0.95" />
<line x1="334.73" y1="270.9" x2="334.73" y2="273.9" stroke="#3c3cff" stroke-width="0.95" />
<line x1="335.3" y1="270.9" x2="335.3" y2="274.4" stroke="#3c3cff" stroke-width="0.95" />
<line x1="339.06" y1="270.9" x2="339.06" y2="273.9" stroke="#3c3cff" stroke-width="0.95" />
<line x1="341.26" y1="270.9" x2="341.26" y2="273.9" stroke="#3c3cff" stroke-width="0.95" />
<line x1="342.83" y1="270.9" x2="342.83" y2="273.9" stroke="#3c3cff" stroke-width="0.95" />
<line x1="344.04" y1="270.9" x2="344.04" y2="273.9" stroke="#3c3cff" stroke-width="0.95" />
<line x1="345.03" y1="270.9" x2="345.03" y2="273.9" stroke="#3c3cff" stroke-width="0.95" />
<line x1="345.86" y1="270.9" x2="345.86" y2="273.9" stroke="#3c3cff" stroke-width="0.95" />
<line x1="346.59" y1="270.9" x2="346.59" y2="273.9" stroke="#3c3cff" stroke-width="0.95" />
<line x1="347.23" y1="270.9" x2="347.23" y2="273.9" stroke="#3c3cff" stroke-width="0.95" />
<line x1="347.8" y1="270.9" x2="347.8" y2="274.4" stroke="#3c3cff" stroke-width="0.95" />
<line x1="350.3" y1="270.9" x2="350.3" y2="274.4" stroke="#3c3cff" stroke-width="0.95" />
<text x="260.7" y="279.1" font-size="4.3" fill="#3c3cff" stroke="#3c3cff" stroke-width="0.1" text-anchor="middle" transform="rotate(-15 260.7 279.1)">10<tspan font-size="3.65" dy="-1.72">0</tspan></text>
<text x="273.2" y="279.1" font-size="4.3" fill="#3c3cff" stroke="#3c3cff" stroke-width="0.1" text-anchor="middle" transform="rotate(-15 273.2 279.1)">10<tspan font-size="3.65" dy="-1.72">1</tspan></text>
<text x="285.7" y="279.1" font-size="4.3" fill="#3c3cff" stroke="#3c3cff" stroke-width="0.1" text-anchor="middle" transform="rotate(-15 285.7 279.1)">10<tspan font-size="3.65" dy="-1.72">2</tspan></text>
<text x="298.2" y="279.1" font-size="4.3" fill="#3c3cff" stroke="#3c3cff" stroke-width="0.1" text-anchor="middle" transform="rotate(-15 298.2 279.1)">10<tspan font-size="3.65" dy="-1.72">3</tspan></text>
<text x="310.7" y="279.1" font-size="4.3" fill="#3c3cff" stroke="#3c3cff" stroke-width="0.1" text-anchor="middle" transform="rotate(-15 310.7 279.1)">10<tspan font-size="3.65" dy="-1.72">4</tspan></text>
<text x="323.2" y="279.1" font-size="4.3" fill="#3c3cff" stroke="#3c3cff" stroke-width="0.1" text-anchor="middle" transform="rotate(-15 323.2 279.1)">10<tspan font-size="3.65" dy="-1.72">5</tspan></text>
<text x="335.7" y="279.1" font-size="4.3" fill="#3c3cff" stroke="#3c3cff" stroke-width="0.1" text-anchor="middle" transform="rotate(-15 335.7 279.1)">10<tspan font-size="3.65" dy="-1.72">6</tspan></text>
<text x="350.7" y="279.1" font-size="4.3" fill="#3c3cff" stroke="#3c3cff" stroke-width="0.1" text-anchor="middle" transform="rotate(-15 350.7 279.1)">10<tspan font-size="3.65" dy="-1.72">7.2</tspan></text>
<text x="305.3" y="285.8" font-size="5.4" fill="#333" text-anchor="middle" font-weight="normal"  stroke="#333" stroke-width="0.15">APC-A</text>
<text x="305.2" y="174.6" font-size="11" fill="#1a1a1a" text-anchor="middle" font-weight="normal"  stroke="#1a1a1a" stroke-width="0.25">Old</text>
<polygon points="398.00,270.90 398.00,270.90 398.54,270.54 399.07,270.17 399.61,269.81 400.15,269.45 400.69,269.09 401.23,269.32 401.76,268.82 402.30,267.85 402.82,267.40 403.34,267.93 403.87,266.59 404.39,266.49 404.91,266.75 405.43,266.02 405.96,265.18 406.48,264.97 407.00,265.44 407.55,264.04 408.10,262.75 408.65,261.82 409.20,261.94 409.75,260.74 410.30,259.68 410.84,257.52 411.38,256.29 411.92,253.42 412.46,252.30 413.00,249.49 413.50,246.69 414.00,244.59 414.50,242.96 415.00,239.62 415.40,229.55 415.95,225.73 416.50,218.89 417.15,215.07 417.80,209.89 418.70,201.35 419.60,188.70 420.30,187.08 421.00,184.61 421.50,183.98 422.00,182.76 422.80,185.17 423.30,190.47 424.20,198.61 424.85,206.05 425.50,211.27 426.05,213.50 426.30,214.85 426.30,270.90" fill="#5b9a2b"/>
<polygon points="426.30,270.90 426.30,214.85 426.60,216.47 427.25,217.04 427.90,218.66 428.80,230.72 429.40,234.22 430.00,239.54 430.57,242.52 431.13,245.58 431.70,250.37 432.33,254.02 432.97,257.06 433.60,259.99 434.20,261.01 434.80,263.24 435.40,264.56 436.00,266.16 436.50,266.15 437.00,267.60 437.50,267.42 438.00,267.53 438.50,268.64 439.00,269.00 439.50,269.32 440.00,269.63 440.50,269.95 441.00,270.27 441.50,270.58 442.00,270.90 442.00,270.90" fill="#e1000e"/>
<line x1="426.6" y1="181" x2="426.6" y2="270.9" stroke="#d3344c" stroke-width="0.9" />
<rect x="385.8" y="181" width="90" height="89.9" fill="none" stroke="#4646ff" stroke-width="1"/>
<line x1="382.6" y1="181" x2="385.8" y2="181" stroke="#4646ff" stroke-width="0.9" />
<line x1="475.8" y1="270.9" x2="475.8" y2="274.1" stroke="#4646ff" stroke-width="0.9" />
<line x1="386.2" y1="185.5" x2="386.2" y2="270.9" stroke="#4f8a3a" stroke-width="1.1" />
<text x="386.4" y="187.1" font-size="6.3" fill="#d8344f" text-anchor="start" font-weight="normal"  stroke="#d8344f" stroke-width="0.22">V2-L</text>
<text x="386.4" y="193" font-size="6.3" fill="#d8344f" text-anchor="start" font-weight="normal"  stroke="#d8344f" stroke-width="0.22">77.6%</text>
<text x="454.5" y="187" font-size="6.3" fill="#d8344f" text-anchor="start" font-weight="normal"  stroke="#d8344f" stroke-width="0.22">CD62P</text>
<text x="454.5" y="192.9" font-size="6.3" fill="#d8344f" text-anchor="start" font-weight="normal"  stroke="#d8344f" stroke-width="0.22">22.4%</text>
<line x1="382.8" y1="270.9" x2="385.8" y2="270.9" stroke="#4646ff" stroke-width="0.8" />
<text x="379.5" y="270.9" font-size="5" fill="#3c3cff" text-anchor="middle" font-weight="normal" transform="rotate(-90 379.5 270.9)"  stroke="#3c3cff" stroke-width="0.18">0</text>
<line x1="382.8" y1="248.42" x2="385.8" y2="248.42" stroke="#4646ff" stroke-width="0.8" />
<text x="379.5" y="248.42" font-size="5" fill="#3c3cff" text-anchor="middle" font-weight="normal" transform="rotate(-90 379.5 248.42)"  stroke="#3c3cff" stroke-width="0.18">100</text>
<line x1="382.8" y1="225.95" x2="385.8" y2="225.95" stroke="#4646ff" stroke-width="0.8" />
<text x="379.5" y="225.95" font-size="5" fill="#3c3cff" text-anchor="middle" font-weight="normal" transform="rotate(-90 379.5 225.95)"  stroke="#3c3cff" stroke-width="0.18">200</text>
<line x1="382.8" y1="203.47" x2="385.8" y2="203.47" stroke="#4646ff" stroke-width="0.8" />
<text x="379.5" y="203.47" font-size="5" fill="#3c3cff" text-anchor="middle" font-weight="normal" transform="rotate(-90 379.5 203.47)"  stroke="#3c3cff" stroke-width="0.18">300</text>
<line x1="382.8" y1="181.9" x2="385.8" y2="181.9" stroke="#4646ff" stroke-width="0.8" />
<text x="379.5" y="180.4" font-size="5" fill="#3c3cff" text-anchor="middle" font-weight="normal" transform="rotate(-90 379.5 180.4)"  stroke="#3c3cff" stroke-width="0.18">400</text>
<line x1="385.8" y1="270.9" x2="385.8" y2="274.4" stroke="#3c3cff" stroke-width="0.95" />
<line x1="389.56" y1="270.9" x2="389.56" y2="273.9" stroke="#3c3cff" stroke-width="0.95" />
<line x1="391.76" y1="270.9" x2="391.76" y2="273.9" stroke="#3c3cff" stroke-width="0.95" />
<line x1="393.33" y1="270.9" x2="393.33" y2="273.9" stroke="#3c3cff" stroke-width="0.95" />
<line x1="394.54" y1="270.9" x2="394.54" y2="273.9" stroke="#3c3cff" stroke-width="0.95" />
<line x1="395.53" y1="270.9" x2="395.53" y2="273.9" stroke="#3c3cff" stroke-width="0.95" />
<line x1="396.36" y1="270.9" x2="396.36" y2="273.9" stroke="#3c3cff" stroke-width="0.95" />
<line x1="397.09" y1="270.9" x2="397.09" y2="273.9" stroke="#3c3cff" stroke-width="0.95" />
<line x1="397.73" y1="270.9" x2="397.73" y2="273.9" stroke="#3c3cff" stroke-width="0.95" />
<line x1="398.3" y1="270.9" x2="398.3" y2="274.4" stroke="#3c3cff" stroke-width="0.95" />
<line x1="402.06" y1="270.9" x2="402.06" y2="273.9" stroke="#3c3cff" stroke-width="0.95" />
<line x1="404.26" y1="270.9" x2="404.26" y2="273.9" stroke="#3c3cff" stroke-width="0.95" />
<line x1="405.83" y1="270.9" x2="405.83" y2="273.9" stroke="#3c3cff" stroke-width="0.95" />
<line x1="407.04" y1="270.9" x2="407.04" y2="273.9" stroke="#3c3cff" stroke-width="0.95" />
<line x1="408.03" y1="270.9" x2="408.03" y2="273.9" stroke="#3c3cff" stroke-width="0.95" />
<line x1="408.86" y1="270.9" x2="408.86" y2="273.9" stroke="#3c3cff" stroke-width="0.95" />
<line x1="409.59" y1="270.9" x2="409.59" y2="273.9" stroke="#3c3cff" stroke-width="0.95" />
<line x1="410.23" y1="270.9" x2="410.23" y2="273.9" stroke="#3c3cff" stroke-width="0.95" />
<line x1="410.8" y1="270.9" x2="410.8" y2="274.4" stroke="#3c3cff" stroke-width="0.95" />
<line x1="414.56" y1="270.9" x2="414.56" y2="273.9" stroke="#3c3cff" stroke-width="0.95" />
<line x1="416.76" y1="270.9" x2="416.76" y2="273.9" stroke="#3c3cff" stroke-width="0.95" />
<line x1="418.33" y1="270.9" x2="418.33" y2="273.9" stroke="#3c3cff" stroke-width="0.95" />
<line x1="419.54" y1="270.9" x2="419.54" y2="273.9" stroke="#3c3cff" stroke-width="0.95" />
<line x1="420.53" y1="270.9" x2="420.53" y2="273.9" stroke="#3c3cff" stroke-width="0.95" />
<line x1="421.36" y1="270.9" x2="421.36" y2="273.9" stroke="#3c3cff" stroke-width="0.95" />
<line x1="422.09" y1="270.9" x2="422.09" y2="273.9" stroke="#3c3cff" stroke-width="0.95" />
<line x1="422.73" y1="270.9" x2="422.73" y2="273.9" stroke="#3c3cff" stroke-width="0.95" />
<line x1="423.3" y1="270.9" x2="423.3" y2="274.4" stroke="#3c3cff" stroke-width="0.95" />
<line x1="427.06" y1="270.9" x2="427.06" y2="273.9" stroke="#3c3cff" stroke-width="0.95" />
<line x1="429.26" y1="270.9" x2="429.26" y2="273.9" stroke="#3c3cff" stroke-width="0.95" />
<line x1="430.83" y1="270.9" x2="430.83" y2="273.9" stroke="#3c3cff" stroke-width="0.95" />
<line x1="432.04" y1="270.9" x2="432.04" y2="273.9" stroke="#3c3cff" stroke-width="0.95" />
<line x1="433.03" y1="270.9" x2="433.03" y2="273.9" stroke="#3c3cff" stroke-width="0.95" />
<line x1="433.86" y1="270.9" x2="433.86" y2="273.9" stroke="#3c3cff" stroke-width="0.95" />
<line x1="434.59" y1="270.9" x2="434.59" y2="273.9" stroke="#3c3cff" stroke-width="0.95" />
<line x1="435.23" y1="270.9" x2="435.23" y2="273.9" stroke="#3c3cff" stroke-width="0.95" />
<line x1="435.8" y1="270.9" x2="435.8" y2="274.4" stroke="#3c3cff" stroke-width="0.95" />
<line x1="439.56" y1="270.9" x2="439.56" y2="273.9" stroke="#3c3cff" stroke-width="0.95" />
<line x1="441.76" y1="270.9" x2="441.76" y2="273.9" stroke="#3c3cff" stroke-width="0.95" />
<line x1="443.33" y1="270.9" x2="443.33" y2="273.9" stroke="#3c3cff" stroke-width="0.95" />
<line x1="444.54" y1="270.9" x2="444.54" y2="273.9" stroke="#3c3cff" stroke-width="0.95" />
<line x1="445.53" y1="270.9" x2="445.53" y2="273.9" stroke="#3c3cff" stroke-width="0.95" />
<line x1="446.36" y1="270.9" x2="446.36" y2="273.9" stroke="#3c3cff" stroke-width="0.95" />
<line x1="447.09" y1="270.9" x2="447.09" y2="273.9" stroke="#3c3cff" stroke-width="0.95" />
<line x1="447.73" y1="270.9" x2="447.73" y2="273.9" stroke="#3c3cff" stroke-width="0.95" />
<line x1="448.3" y1="270.9" x2="448.3" y2="274.4" stroke="#3c3cff" stroke-width="0.95" />
<line x1="452.06" y1="270.9" x2="452.06" y2="273.9" stroke="#3c3cff" stroke-width="0.95" />
<line x1="454.26" y1="270.9" x2="454.26" y2="273.9" stroke="#3c3cff" stroke-width="0.95" />
<line x1="455.83" y1="270.9" x2="455.83" y2="273.9" stroke="#3c3cff" stroke-width="0.95" />
<line x1="457.04" y1="270.9" x2="457.04" y2="273.9" stroke="#3c3cff" stroke-width="0.95" />
<line x1="458.03" y1="270.9" x2="458.03" y2="273.9" stroke="#3c3cff" stroke-width="0.95" />
<line x1="458.86" y1="270.9" x2="458.86" y2="273.9" stroke="#3c3cff" stroke-width="0.95" />
<line x1="459.59" y1="270.9" x2="459.59" y2="273.9" stroke="#3c3cff" stroke-width="0.95" />
<line x1="460.23" y1="270.9" x2="460.23" y2="273.9" stroke="#3c3cff" stroke-width="0.95" />
<line x1="460.8" y1="270.9" x2="460.8" y2="274.4" stroke="#3c3cff" stroke-width="0.95" />
<line x1="464.56" y1="270.9" x2="464.56" y2="273.9" stroke="#3c3cff" stroke-width="0.95" />
<line x1="466.76" y1="270.9" x2="466.76" y2="273.9" stroke="#3c3cff" stroke-width="0.95" />
<line x1="468.33" y1="270.9" x2="468.33" y2="273.9" stroke="#3c3cff" stroke-width="0.95" />
<line x1="469.54" y1="270.9" x2="469.54" y2="273.9" stroke="#3c3cff" stroke-width="0.95" />
<line x1="470.53" y1="270.9" x2="470.53" y2="273.9" stroke="#3c3cff" stroke-width="0.95" />
<line x1="471.36" y1="270.9" x2="471.36" y2="273.9" stroke="#3c3cff" stroke-width="0.95" />
<line x1="472.09" y1="270.9" x2="472.09" y2="273.9" stroke="#3c3cff" stroke-width="0.95" />
<line x1="472.73" y1="270.9" x2="472.73" y2="273.9" stroke="#3c3cff" stroke-width="0.95" />
<line x1="473.3" y1="270.9" x2="473.3" y2="274.4" stroke="#3c3cff" stroke-width="0.95" />
<line x1="475.8" y1="270.9" x2="475.8" y2="274.4" stroke="#3c3cff" stroke-width="0.95" />
<text x="386.2" y="279.1" font-size="4.3" fill="#3c3cff" stroke="#3c3cff" stroke-width="0.1" text-anchor="middle" transform="rotate(-15 386.2 279.1)">10<tspan font-size="3.65" dy="-1.72">0</tspan></text>
<text x="398.7" y="279.1" font-size="4.3" fill="#3c3cff" stroke="#3c3cff" stroke-width="0.1" text-anchor="middle" transform="rotate(-15 398.7 279.1)">10<tspan font-size="3.65" dy="-1.72">1</tspan></text>
<text x="411.2" y="279.1" font-size="4.3" fill="#3c3cff" stroke="#3c3cff" stroke-width="0.1" text-anchor="middle" transform="rotate(-15 411.2 279.1)">10<tspan font-size="3.65" dy="-1.72">2</tspan></text>
<text x="423.7" y="279.1" font-size="4.3" fill="#3c3cff" stroke="#3c3cff" stroke-width="0.1" text-anchor="middle" transform="rotate(-15 423.7 279.1)">10<tspan font-size="3.65" dy="-1.72">3</tspan></text>
<text x="436.2" y="279.1" font-size="4.3" fill="#3c3cff" stroke="#3c3cff" stroke-width="0.1" text-anchor="middle" transform="rotate(-15 436.2 279.1)">10<tspan font-size="3.65" dy="-1.72">4</tspan></text>
<text x="448.7" y="279.1" font-size="4.3" fill="#3c3cff" stroke="#3c3cff" stroke-width="0.1" text-anchor="middle" transform="rotate(-15 448.7 279.1)">10<tspan font-size="3.65" dy="-1.72">5</tspan></text>
<text x="461.2" y="279.1" font-size="4.3" fill="#3c3cff" stroke="#3c3cff" stroke-width="0.1" text-anchor="middle" transform="rotate(-15 461.2 279.1)">10<tspan font-size="3.65" dy="-1.72">6</tspan></text>
<text x="476.2" y="279.1" font-size="4.3" fill="#3c3cff" stroke="#3c3cff" stroke-width="0.1" text-anchor="middle" transform="rotate(-15 476.2 279.1)">10<tspan font-size="3.65" dy="-1.72">7.2</tspan></text>
<text x="430.8" y="285.8" font-size="5.4" fill="#333" text-anchor="middle" font-weight="normal"  stroke="#333" stroke-width="0.15">APC-A</text>
<text x="373.2" y="236" font-size="5.5" fill="#111" text-anchor="middle" font-weight="normal" transform="rotate(-90 373.2 236)" stroke="#111" stroke-width="0.15">Count</text>
<text x="430.7" y="174.6" font-size="11" fill="#1a1a1a" text-anchor="middle" font-weight="normal"  stroke="#1a1a1a" stroke-width="0.25">AD</text>
<line x1="534.3" y1="14.8" x2="534.3" y2="124.3" stroke="#333" stroke-width="0.9" />
<line x1="534.3" y1="124.3" x2="698.3" y2="124.3" stroke="#333" stroke-width="0.9" />
<line x1="531.2" y1="124.3" x2="534.3" y2="124.3" stroke="#333" stroke-width="0.9" />
<text x="529.9" y="126.7" font-size="7.7" fill="#222" text-anchor="end" font-weight="normal"  stroke="#222" stroke-width="0.15">0</text>
<line x1="531.2" y1="102.5" x2="534.3" y2="102.5" stroke="#333" stroke-width="0.9" />
<text x="529.9" y="104.9" font-size="7.7" fill="#222" text-anchor="end" font-weight="normal"  stroke="#222" stroke-width="0.15">1000</text>
<line x1="531.2" y1="80.7" x2="534.3" y2="80.7" stroke="#333" stroke-width="0.9" />
<text x="529.9" y="83.1" font-size="7.7" fill="#222" text-anchor="end" font-weight="normal"  stroke="#222" stroke-width="0.15">2000</text>
<line x1="531.2" y1="58.9" x2="534.3" y2="58.9" stroke="#333" stroke-width="0.9" />
<text x="529.9" y="61.3" font-size="7.7" fill="#222" text-anchor="end" font-weight="normal"  stroke="#222" stroke-width="0.15">3000</text>
<line x1="531.2" y1="37.1" x2="534.3" y2="37.1" stroke="#333" stroke-width="0.9" />
<text x="529.9" y="39.5" font-size="7.7" fill="#222" text-anchor="end" font-weight="normal"  stroke="#222" stroke-width="0.15">4000</text>
<line x1="531.2" y1="15.3" x2="534.3" y2="15.3" stroke="#333" stroke-width="0.9" />
<text x="529.9" y="17.7" font-size="7.7" fill="#222" text-anchor="end" font-weight="normal"  stroke="#222" stroke-width="0.15">5000</text>
<line x1="567.3" y1="124.3" x2="567.3" y2="127.2" stroke="#333" stroke-width="0.9" />
<line x1="616.2" y1="124.3" x2="616.2" y2="127.2" stroke="#333" stroke-width="0.9" />
<line x1="665" y1="124.3" x2="665" y2="127.2" stroke="#333" stroke-width="0.9" />
<text x="567.3" y="135.7" font-size="8.1" fill="#222" text-anchor="middle" font-weight="normal"  stroke="#222" stroke-width="0.15">Young</text>
<text x="616.2" y="135.7" font-size="8.1" fill="#222" text-anchor="middle" font-weight="normal"  stroke="#222" stroke-width="0.15">Old</text>
<text x="665" y="135.7" font-size="8.1" fill="#222" text-anchor="middle" font-weight="normal"  stroke="#222" stroke-width="0.15">AD</text>
<rect x="550.9" y="93.2" width="32.70" height="31.10" fill="none" stroke="#3b6e1e" stroke-width="1.35"/>
<rect x="599.9" y="85.5" width="32.80" height="38.80" fill="none" stroke="#1e1e8c" stroke-width="1.35"/>
<rect x="648.7" y="86.5" width="32.60" height="37.80" fill="none" stroke="#e0141e" stroke-width="1.35"/>
<line x1="567.3" y1="88.2" x2="567.3" y2="98.3" stroke="#999" stroke-width="0.8" />
<line x1="559.3" y1="88.2" x2="575.3" y2="88.2" stroke="#999" stroke-width="0.8" />
<line x1="559.3" y1="98.3" x2="575.3" y2="98.3" stroke="#999" stroke-width="0.8" />
<line x1="616.2" y1="79.6" x2="616.2" y2="90.8" stroke="#999" stroke-width="0.8" />
<line x1="608.2" y1="79.6" x2="624.2" y2="79.6" stroke="#999" stroke-width="0.8" />
<line x1="608.2" y1="90.8" x2="624.2" y2="90.8" stroke="#999" stroke-width="0.8" />
<line x1="665" y1="81" x2="665" y2="91.4" stroke="#999" stroke-width="0.8" />
<line x1="657" y1="81" x2="673" y2="81" stroke="#999" stroke-width="0.8" />
<line x1="657" y1="91.4" x2="673" y2="91.4" stroke="#999" stroke-width="0.8" />
<polygon points="567.00,52.39 569.27,56.59 564.73,56.59" fill="#3b6e1e"/>
<circle cx="567" cy="83.3" r="2.2" fill="#3b6e1e"/>
<polygon points="570.70,84.59 572.97,88.79 568.43,88.79" fill="#3b6e1e"/>
<circle cx="560.7" cy="92.7" r="2.2" fill="#3b6e1e"/>
<polygon points="557.00,95.39 559.27,99.59 554.73,99.59" fill="#3b6e1e"/>
<polygon points="564.00,95.69 566.27,99.89 561.73,99.89" fill="#3b6e1e"/>
<polygon points="570.40,98.59 572.67,102.79 568.13,102.79" fill="#3b6e1e"/>
<polygon points="577.00,95.39 579.27,99.59 574.73,99.59" fill="#3b6e1e"/>
<polygon points="563.70,107.69 565.97,111.89 561.43,111.89" fill="#3b6e1e"/>
<circle cx="570.6" cy="108.7" r="2.2" fill="#3b6e1e"/>
<circle cx="616" cy="29.6" r="2.2" fill="#1e1e8c"/>
<polygon points="619.60,51.69 621.87,55.89 617.33,55.89" fill="#1e1e8c"/>
<polygon points="609.40,56.69 611.67,60.89 607.13,60.89" fill="#1e1e8c"/>
<polygon points="613.00,63.49 615.27,67.69 610.73,67.69" fill="#1e1e8c"/>
<polygon points="619.70,63.89 621.97,68.09 617.43,68.09" fill="#1e1e8c"/>
<circle cx="619.5" cy="76.7" r="2.2" fill="#1e1e8c"/>
<polygon points="613.00,78.99 615.27,83.19 610.73,83.19" fill="#1e1e8c"/>
<polygon points="609.70,86.39 611.97,90.59 607.43,90.59" fill="#1e1e8c"/>
<circle cx="616.2" cy="89.2" r="2.2" fill="#1e1e8c"/>
<circle cx="622.5" cy="87" r="2.2" fill="#1e1e8c"/>
<circle cx="613" cy="96.2" r="2.2" fill="#1e1e8c"/>
<polygon points="619.70,93.19 621.97,97.39 617.43,97.39" fill="#1e1e8c"/>
<circle cx="623" cy="98.9" r="2.2" fill="#1e1e8c"/>
<circle cx="609.7" cy="102.7" r="2.2" fill="#1e1e8c"/>
<circle cx="616.2" cy="103.5" r="2.2" fill="#1e1e8c"/>
<polygon points="609.70,108.49 611.97,112.69 607.43,112.69" fill="#1e1e8c"/>
<circle cx="616.2" cy="115.8" r="2.2" fill="#1e1e8c"/>
<polygon points="622.50,113.49 624.77,117.69 620.23,117.69" fill="#1e1e8c"/>
<circle cx="665" cy="59.3" r="2.2" fill="#e0141e"/>
<circle cx="668.6" cy="64" r="2.2" fill="#e0141e"/>
<circle cx="661.6" cy="68.3" r="2.2" fill="#e0141e"/>
<polygon points="665.00,75.09 667.27,79.29 662.73,79.29" fill="#e0141e"/>
<circle cx="665" cy="85.6" r="2.2" fill="#e0141e"/>
<polygon points="661.60,92.29 663.87,96.49 659.33,96.49" fill="#e0141e"/>
<circle cx="671.6" cy="96.6" r="2.2" fill="#e0141e"/>
<circle cx="655.2" cy="100.6" r="2.2" fill="#e0141e"/>
<circle cx="668.4" cy="101.6" r="2.2" fill="#e0141e"/>
<polygon points="675.00,98.29 677.27,102.49 672.73,102.49" fill="#e0141e"/>
<polygon points="661.60,102.29 663.87,106.49 659.33,106.49" fill="#e0141e"/>
<line x1="567.9" y1="19.95" x2="616.8" y2="19.95" stroke="#b0b0b0" stroke-width="1.8" />
<line x1="567.9" y1="24.35" x2="671" y2="24.35" stroke="#555" stroke-width="1.1" />
<text x="592.6" y="15" font-size="9" fill="#222" text-anchor="middle" font-weight="normal"  stroke="#222" stroke-width="0.15">ns</text>
<circle cx="540.2" cy="30.6" r="2.6" fill="#111"/>
<text x="546" y="32.7" font-size="7.4" fill="#222" text-anchor="start" font-weight="normal" stroke="#222" stroke-width="0.25">Female</text>
<polygon points="540.20,41.15 542.90,46.15 537.50,46.15" fill="#111"/>
<text x="546" y="46.1" font-size="7.4" fill="#222" text-anchor="start" font-weight="normal" stroke="#222" stroke-width="0.25">Male</text>
<text transform="translate(495.6 71.5) rotate(-90)" font-size="8.3" fill="#222" text-anchor="middle">Number of CD62P<tspan font-size="5.6" dy="-3">+</tspan><tspan dy="3">cells</tspan></text>
<text transform="translate(505.6 69.3) rotate(-90)" font-size="8.2" fill="#222" text-anchor="middle">per 10 000 CD41<tspan font-size="5.6" dy="-3">+</tspan><tspan dy="3">cells</tspan></text>
<line x1="535.4" y1="162.3" x2="535.4" y2="271.2" stroke="#333" stroke-width="0.9" />
<line x1="535.4" y1="271.2" x2="698.6" y2="271.2" stroke="#333" stroke-width="0.9" />
<line x1="532.2" y1="271.2" x2="535.4" y2="271.2" stroke="#333" stroke-width="0.9" />
<text x="530.8" y="273.8" font-size="7.6" fill="#222" text-anchor="end" font-weight="normal"  stroke="#222" stroke-width="0.15">0</text>
<line x1="532.2" y1="244.02" x2="535.4" y2="244.02" stroke="#333" stroke-width="0.9" />
<text x="530.8" y="246.62" font-size="7.6" fill="#222" text-anchor="end" font-weight="normal"  stroke="#222" stroke-width="0.15">10</text>
<line x1="532.2" y1="216.85" x2="535.4" y2="216.85" stroke="#333" stroke-width="0.9" />
<text x="530.8" y="219.45" font-size="7.6" fill="#222" text-anchor="end" font-weight="normal"  stroke="#222" stroke-width="0.15">20</text>
<line x1="532.2" y1="189.68" x2="535.4" y2="189.68" stroke="#333" stroke-width="0.9" />
<text x="530.8" y="192.28" font-size="7.6" fill="#222" text-anchor="end" font-weight="normal"  stroke="#222" stroke-width="0.15">30</text>
<line x1="532.2" y1="162.5" x2="535.4" y2="162.5" stroke="#333" stroke-width="0.9" />
<text x="530.8" y="165.1" font-size="7.6" fill="#222" text-anchor="end" font-weight="normal"  stroke="#222" stroke-width="0.15">40</text>
<line x1="535.2" y1="271.2" x2="535.2" y2="274" stroke="#333" stroke-width="0.9" />
<text x="535.2" y="282.7" font-size="7.9" fill="#222" text-anchor="middle" font-weight="normal"  stroke="#222" stroke-width="0.15">500</text>
<line x1="567.86" y1="271.2" x2="567.86" y2="274" stroke="#333" stroke-width="0.9" />
<text x="567.86" y="282.7" font-size="7.9" fill="#222" text-anchor="middle" font-weight="normal"  stroke="#222" stroke-width="0.15">1000</text>
<line x1="600.52" y1="271.2" x2="600.52" y2="274" stroke="#333" stroke-width="0.9" />
<text x="600.52" y="282.7" font-size="7.9" fill="#222" text-anchor="middle" font-weight="normal"  stroke="#222" stroke-width="0.15">1500</text>
<line x1="633.18" y1="271.2" x2="633.18" y2="274" stroke="#333" stroke-width="0.9" />
<text x="633.18" y="282.7" font-size="7.9" fill="#222" text-anchor="middle" font-weight="normal"  stroke="#222" stroke-width="0.15">2000</text>
<line x1="665.84" y1="271.2" x2="665.84" y2="274" stroke="#333" stroke-width="0.9" />
<text x="665.84" y="282.7" font-size="7.9" fill="#222" text-anchor="middle" font-weight="normal"  stroke="#222" stroke-width="0.15">2500</text>
<line x1="698.5" y1="271.2" x2="698.5" y2="274" stroke="#333" stroke-width="0.9" />
<text x="698.5" y="282.7" font-size="7.9" fill="#222" text-anchor="middle" font-weight="normal"  stroke="#222" stroke-width="0.15">3000</text>
<text x="617.2" y="299.6" font-size="9" fill="#222" text-anchor="middle" font-weight="normal"  stroke="#222" stroke-width="0.15">No. CD62P+/CD41+ cells</text>
<text x="516.2" y="212" font-size="8.3" fill="#222" text-anchor="middle" font-weight="normal" transform="rotate(-90 516.2 212)"  stroke="#222" stroke-width="0.15">Cognitive Score (MMSE)</text>
<circle cx="540.1" cy="169" r="2.6" fill="#111"/>
<text x="545.8" y="171.6" font-size="7.4" fill="#222" text-anchor="start" font-weight="normal" stroke="#222" stroke-width="0.25">Female</text>
<polygon points="540.10,180.05 542.80,185.05 537.40,185.05" fill="#111"/>
<text x="545.8" y="185.1" font-size="7.4" fill="#222" text-anchor="start" font-weight="normal" stroke="#222" stroke-width="0.25">Male</text>
<path d="M562.3 208.6 C580 208.2 600 207 620 204.2 S 670 193 696.8 188.7" fill="none" stroke="#888" stroke-width="0.65" stroke-dasharray="1.2 1.0"/>
<path d="M562.3 227.5 C585 222.8 600 220 620 218.3 S 670 216 696.8 215.2" fill="none" stroke="#888" stroke-width="0.65" stroke-dasharray="1.2 1.0"/>
<line x1="562.3" y1="218.3" x2="696.8" y2="202" stroke="#222" stroke-width="0.9" />
<circle cx="585.2" cy="200.4" r="2.2" fill="#111"/>
<polygon points="592.50,203.99 594.77,208.19 590.23,208.19" fill="#111"/>
<polygon points="575.10,209.49 577.37,213.69 572.83,213.69" fill="#111"/>
<circle cx="619.3" cy="208.4" r="2.2" fill="#111"/>
<polygon points="562.30,222.99 564.57,227.19 560.03,227.19" fill="#111"/>
<circle cx="570.9" cy="224.7" r="2.2" fill="#111"/>
<circle cx="573.3" cy="233.1" r="2.2" fill="#111"/>
<polygon points="644.10,206.29 646.37,210.49 641.83,210.49" fill="#111"/>
<circle cx="670.6" cy="197.4" r="2.2" fill="#111"/>
<circle cx="683.4" cy="208.4" r="2.2" fill="#111"/>
<circle cx="696.8" cy="208.4" r="2.2" fill="#111"/>
</svg>
</body></html>
